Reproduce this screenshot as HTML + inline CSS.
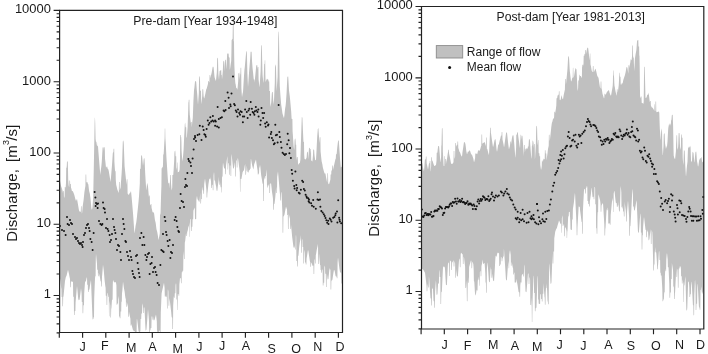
<!DOCTYPE html>
<html><head><meta charset="utf-8"><title>Discharge pre-dam and post-dam</title>
<style>html,body{margin:0;padding:0;background:#fff}body{width:708px;height:354px;overflow:hidden}</style></head>
<body>
<svg width="708" height="354" viewBox="0 0 708 354" style="display:block">
<rect width="708" height="354" fill="#fff"/>
<polygon fill="#c0c0c0" points="59.6,175.7 59.8,175.7 60.0,180.5 60.2,181.9 61.0,185.8 61.2,186.6 62.0,188.7 62.6,190.9 63.0,193.0 63.2,191.0 63.8,191.0 64.0,198.2 64.6,196.3 64.8,187.0 65.4,187.0 65.6,188.5 65.8,185.4 66.0,182.9 66.2,167.7 66.6,167.7 66.8,165.3 67.0,160.9 67.4,161.7 67.8,161.6 68.0,169.2 68.2,179.4 68.6,184.7 68.8,186.3 69.2,186.9 69.4,180.4 70.0,180.4 70.2,184.0 70.8,184.0 71.0,187.9 71.2,188.1 72.0,191.2 72.8,191.0 74.2,194.5 75.2,198.6 76.0,201.0 77.0,198.7 79.0,210.5 79.8,211.7 80.6,211.7 80.8,211.5 81.0,206.2 81.6,206.2 81.8,212.9 82.0,213.7 82.2,212.0 82.8,205.6 83.6,200.0 84.4,192.2 85.2,186.9 85.4,186.0 85.6,174.5 86.2,174.5 86.4,182.7 86.8,182.0 87.4,182.1 87.6,183.2 88.2,184.1 88.4,185.0 89.0,190.1 89.2,191.3 89.8,193.5 90.4,197.8 90.6,199.6 91.4,208.5 91.6,210.3 91.8,208.8 92.2,208.8 92.4,208.3 93.2,197.1 93.8,166.9 94.2,146.4 94.4,134.5 94.6,123.0 94.8,117.6 95.0,117.9 95.2,122.5 95.6,138.9 96.0,141.9 96.2,144.2 96.4,145.8 96.6,141.8 97.0,141.8 97.2,146.4 97.6,145.6 98.0,146.3 98.4,151.8 99.8,168.9 100.0,171.1 100.4,174.9 100.6,172.5 100.8,170.6 101.4,165.7 101.8,161.3 102.2,154.0 102.6,147.8 102.8,147.3 103.0,147.6 103.4,147.3 103.6,147.6 104.0,151.0 104.2,147.3 104.8,147.3 105.0,158.8 105.4,161.8 106.0,167.8 106.8,166.6 107.2,166.5 107.6,168.4 108.4,169.6 108.8,171.3 109.0,172.5 110.6,182.0 112.0,165.1 112.8,153.3 113.0,152.4 113.4,152.2 113.6,148.7 114.2,148.7 114.4,161.7 114.8,167.7 115.0,170.2 115.2,171.3 115.6,171.3 115.8,179.9 116.2,184.7 117.4,189.8 118.8,193.1 119.0,182.0 119.6,182.0 119.8,190.2 120.6,187.4 121.6,173.5 122.0,166.5 122.4,153.9 122.8,142.1 123.0,140.5 123.2,140.6 123.6,141.8 123.8,143.9 124.0,150.0 124.6,166.3 124.8,168.0 125.6,175.8 126.2,181.5 126.6,184.8 126.8,179.3 127.4,179.3 127.6,192.9 127.8,194.1 128.6,194.8 129.0,194.7 129.4,193.5 130.2,192.7 131.0,190.9 131.6,196.8 133.0,213.1 134.0,227.2 134.4,232.4 134.6,233.0 135.6,225.7 136.2,222.7 136.4,221.6 137.0,216.5 137.2,214.3 137.8,209.1 138.6,201.1 139.0,196.3 139.8,183.6 140.0,168.8 140.4,168.8 140.6,169.3 141.0,158.8 141.2,155.0 141.8,155.7 142.0,155.8 142.2,157.3 143.0,165.8 143.2,164.3 143.4,162.3 143.6,159.9 143.8,158.8 144.0,158.2 144.2,158.1 144.4,158.4 144.6,159.7 145.2,173.2 145.6,180.0 146.2,189.3 146.4,190.0 147.0,183.8 147.2,183.0 147.8,185.2 148.0,186.4 148.6,193.7 148.8,195.8 149.0,197.3 149.2,195.6 149.8,195.6 150.0,204.7 150.2,204.7 150.6,205.5 150.8,204.1 151.4,204.1 151.6,208.1 151.8,208.7 152.6,212.3 153.4,212.2 154.0,213.1 154.2,214.3 154.8,218.9 155.0,220.2 155.6,222.6 155.8,223.8 156.4,228.8 156.6,229.8 157.2,231.7 158.0,236.5 158.4,239.4 158.6,239.7 159.6,234.6 159.8,233.2 160.0,214.4 160.4,214.4 160.6,211.4 161.2,191.0 161.4,186.5 161.6,168.3 162.2,168.3 162.4,166.9 162.8,166.9 163.0,164.8 163.2,154.5 163.6,154.5 163.8,151.7 164.2,144.4 164.4,141.0 164.6,138.5 164.8,128.6 165.2,128.6 165.4,138.6 165.6,141.1 165.8,144.6 166.4,156.4 166.6,159.8 167.8,178.3 168.0,180.7 168.4,184.1 168.6,183.1 169.2,183.1 169.4,188.5 169.8,183.4 170.0,181.5 170.2,175.0 170.8,175.0 171.0,182.8 171.2,185.2 171.6,190.6 172.0,188.7 172.2,187.4 172.4,175.0 173.0,175.0 173.2,175.2 173.6,170.3 174.2,160.2 174.4,153.5 174.6,151.5 175.2,150.5 175.4,152.1 175.6,156.2 176.2,156.2 176.4,167.5 176.6,168.1 177.0,170.3 177.2,162.6 177.6,162.6 177.8,172.5 178.2,171.8 178.8,172.0 179.0,171.9 179.6,169.4 180.0,158.5 180.2,135.0 180.8,135.0 181.0,137.3 181.2,136.9 181.4,141.2 181.6,151.0 182.0,156.4 182.2,158.3 182.6,161.4 183.6,149.5 184.2,135.7 184.4,132.4 184.8,124.2 185.0,123.3 185.2,122.6 185.6,127.2 186.2,127.2 186.4,136.8 186.8,137.9 187.6,127.3 188.2,110.8 188.4,102.4 188.6,102.0 188.8,99.7 189.4,99.7 189.6,109.9 189.8,114.8 190.6,121.5 190.8,123.0 191.0,122.0 191.6,122.0 191.8,127.5 192.0,125.0 192.2,122.8 192.8,117.9 193.4,101.3 193.8,94.1 194.0,90.2 194.4,87.5 195.0,81.6 195.2,81.1 196.0,81.4 196.2,82.0 196.8,89.7 197.2,93.7 197.6,99.6 198.0,104.7 198.4,98.7 198.8,93.5 199.0,81.7 199.2,76.5 199.8,76.5 200.0,79.2 200.2,90.1 200.4,90.8 201.0,90.8 201.2,101.8 201.4,104.3 202.2,96.0 202.4,89.4 203.0,89.0 203.2,89.4 203.4,93.0 203.6,96.0 203.8,97.3 204.2,98.5 204.4,98.1 204.6,97.0 205.4,93.5 206.0,90.4 206.2,89.5 206.8,88.3 208.0,83.8 208.2,80.9 208.8,80.9 209.0,82.4 209.2,82.3 209.4,81.9 209.6,75.1 210.2,75.1 210.4,78.2 210.8,76.2 211.6,72.9 212.6,67.3 213.0,66.6 213.4,66.9 213.6,67.6 214.4,75.8 214.6,77.2 215.8,81.0 216.0,80.3 216.8,72.5 217.0,65.9 217.2,57.6 217.8,58.5 218.0,58.5 218.2,67.2 218.4,74.0 219.0,79.7 219.2,76.5 219.6,71.1 219.8,70.8 220.0,71.2 220.4,70.8 220.6,70.1 221.2,70.1 221.4,75.0 221.8,75.0 222.0,79.6 222.4,75.8 222.8,71.0 223.2,62.4 223.4,61.2 223.8,60.7 224.0,60.8 224.2,63.2 224.4,71.2 224.6,67.7 224.8,63.7 225.0,60.3 225.4,59.6 225.6,59.8 225.8,60.3 226.0,63.0 226.2,66.6 226.4,69.6 227.0,57.1 227.2,53.3 227.8,53.8 228.6,53.5 228.8,56.5 229.0,57.4 229.6,57.4 229.8,69.7 230.0,69.1 230.2,68.1 230.8,63.4 231.2,60.9 231.4,53.6 231.6,40.2 232.4,38.9 232.6,38.7 232.8,26.6 233.0,20.6 233.6,20.6 233.8,41.0 234.0,41.7 234.2,56.4 234.4,65.9 234.8,74.3 235.2,81.5 235.4,83.5 235.6,84.1 236.2,87.7 236.4,88.2 237.0,88.3 237.2,88.9 237.4,89.9 237.8,85.8 238.2,81.1 238.4,73.2 238.6,73.4 239.2,72.6 239.4,74.1 239.8,79.7 240.0,76.3 240.2,73.8 240.4,73.8 240.6,67.8 241.2,67.8 241.4,88.1 241.8,94.5 242.0,97.3 242.6,93.6 243.0,91.9 244.0,75.7 244.4,70.2 244.8,67.0 246.2,51.5 246.4,51.2 246.8,51.4 247.0,56.3 247.2,66.2 247.4,73.4 248.0,87.0 249.0,72.9 249.2,70.2 250.2,58.6 250.6,52.0 251.0,51.6 251.6,52.0 251.8,56.2 252.0,60.8 252.6,68.4 253.0,72.0 253.6,78.1 253.8,79.6 254.4,79.6 254.6,82.5 255.8,70.3 256.2,65.9 256.4,65.4 257.0,64.8 257.2,65.1 257.6,69.2 257.8,66.9 258.4,66.9 258.6,79.5 259.4,86.9 259.6,86.3 260.6,71.6 260.8,63.9 261.0,51.6 261.2,45.4 261.8,45.3 262.4,69.3 262.6,74.9 262.8,77.2 263.4,83.0 263.6,81.2 264.0,68.7 264.2,64.1 264.6,64.0 264.8,60.3 265.2,60.3 265.4,75.5 265.6,82.1 267.0,78.4 267.4,79.3 268.2,79.6 268.4,79.9 268.6,81.6 269.2,81.6 269.4,91.0 270.0,91.0 270.2,102.7 270.6,107.0 271.2,102.4 271.4,100.3 271.6,97.3 271.8,93.4 272.0,92.2 272.6,91.7 272.8,92.5 273.2,99.8 273.8,104.8 274.8,82.7 275.0,67.6 275.2,64.2 275.8,66.0 276.0,68.0 276.6,91.5 277.4,79.6 277.6,77.1 278.2,39.2 278.4,32.2 278.8,31.3 279.0,37.6 279.6,78.0 279.8,86.2 280.4,95.0 280.6,97.6 281.2,104.7 282.0,110.0 282.4,113.1 282.6,114.0 282.8,114.5 283.6,117.2 284.0,117.9 284.4,115.3 285.0,109.6 285.2,107.9 285.4,107.1 285.6,105.7 285.8,103.7 286.0,101.3 286.6,92.7 287.2,79.9 287.4,76.7 288.2,76.6 288.4,79.4 289.0,90.6 289.8,96.4 290.2,100.4 291.2,111.8 291.4,115.1 291.6,118.7 292.4,118.9 292.6,131.5 292.8,133.9 293.6,145.9 293.8,147.4 294.2,149.9 294.4,147.2 294.6,141.0 294.8,139.2 295.2,138.6 295.4,138.8 295.6,140.8 295.8,144.8 296.2,144.8 296.4,156.6 296.8,158.9 297.0,160.8 297.2,157.1 297.8,157.1 298.0,164.3 298.4,164.6 298.6,164.4 299.0,163.3 299.2,163.1 299.8,163.6 300.4,159.5 300.8,146.4 301.4,127.9 301.8,116.9 302.2,117.4 302.4,117.5 303.0,132.0 303.4,140.6 303.6,142.0 304.0,142.0 304.2,154.8 304.4,157.6 304.6,159.1 305.6,159.6 306.0,159.1 306.6,157.6 307.0,152.5 307.2,151.8 307.6,151.7 307.8,152.2 308.0,153.4 308.4,159.6 308.8,151.2 309.0,148.1 309.2,147.8 309.8,147.9 310.0,150.3 310.2,153.3 310.4,148.9 311.0,148.9 311.2,160.3 312.2,161.6 312.4,161.3 313.0,154.9 313.2,149.7 313.4,148.9 313.8,150.0 314.0,149.8 314.2,150.4 314.4,153.9 314.6,156.1 315.2,160.1 315.4,160.2 316.0,159.9 316.6,149.0 317.2,136.4 317.6,131.7 317.8,129.1 318.4,128.0 318.6,130.7 319.0,136.7 319.2,139.4 319.4,141.3 319.6,142.9 319.8,137.2 320.4,137.2 320.6,151.5 320.8,153.3 321.0,155.4 321.6,161.0 321.8,162.1 322.4,164.6 322.8,167.3 324.0,171.8 324.6,173.5 324.8,173.6 325.4,173.4 325.6,174.4 326.2,178.0 327.0,182.1 327.2,182.6 327.4,173.3 328.0,173.3 328.2,183.6 328.6,183.8 329.0,184.5 330.2,180.3 330.4,179.4 330.6,174.6 331.2,174.6 331.4,170.4 332.0,170.4 332.2,165.6 332.8,165.6 333.0,170.0 333.2,168.9 335.4,159.2 335.6,158.7 335.8,158.7 336.0,154.2 336.6,154.2 336.8,152.5 337.0,150.1 337.2,148.0 338.0,141.3 338.2,140.4 338.8,140.5 339.6,152.0 340.0,158.1 340.2,160.3 340.8,167.5 341.0,167.2 341.6,167.1 341.8,166.6 342.4,161.2 342.4,279.0 342.2,279.0 342.0,283.4 341.4,283.4 341.2,273.5 340.2,272.0 340.0,272.0 339.4,268.6 338.6,261.9 338.0,257.4 337.8,259.8 337.6,262.5 337.4,278.2 336.8,278.2 336.6,275.2 336.4,277.0 336.2,276.8 335.6,275.9 335.4,274.9 334.8,271.4 334.6,270.8 334.0,269.8 333.2,274.3 332.6,278.6 332.4,279.7 331.6,281.1 331.4,279.3 331.2,289.5 330.6,289.5 330.4,269.4 329.8,269.4 329.6,267.6 329.4,269.3 328.6,277.3 328.4,278.9 327.8,279.5 327.6,279.0 327.4,277.7 327.0,274.6 326.8,273.9 326.6,286.9 326.0,286.9 325.8,273.8 325.2,273.8 325.0,265.5 324.6,266.5 324.4,267.4 324.2,282.8 323.6,282.8 323.4,285.6 322.8,285.6 322.6,270.6 322.0,268.9 321.8,272.8 321.2,272.8 321.0,270.1 320.6,270.1 320.4,265.2 320.0,264.8 319.2,255.3 319.0,253.5 318.8,264.0 318.2,264.0 318.0,243.7 317.6,245.9 317.0,248.4 316.8,249.5 316.0,254.4 315.8,255.3 315.6,263.4 315.0,263.4 314.8,258.9 314.4,260.1 314.2,274.0 313.6,274.0 313.4,265.1 313.2,265.8 313.0,266.3 312.6,265.7 311.6,262.9 311.2,262.4 311.0,266.8 310.4,266.8 310.2,261.9 310.0,261.8 309.8,260.7 308.4,251.3 308.0,249.8 306.6,258.6 306.4,264.4 305.8,264.4 305.6,262.4 305.0,262.4 304.8,253.1 304.6,251.6 304.4,250.5 304.2,249.7 304.0,263.6 303.4,263.6 303.2,247.0 302.6,247.0 302.4,240.0 302.2,239.5 302.0,238.6 301.8,252.7 301.2,252.7 301.0,234.9 300.6,238.5 299.8,242.5 299.2,247.1 299.0,249.0 298.6,253.9 298.4,255.9 298.2,255.9 298.0,255.2 297.8,266.5 297.2,266.5 297.0,260.9 296.4,260.9 296.2,237.1 296.0,234.4 295.8,236.3 295.6,249.6 295.0,249.6 294.8,245.2 294.6,246.7 294.4,247.8 293.6,247.6 293.4,246.6 292.2,237.3 292.0,235.3 291.0,224.7 290.8,228.9 290.2,228.9 290.0,219.0 289.8,217.9 288.8,214.1 288.6,229.0 288.0,229.0 287.8,215.0 287.2,215.0 287.0,209.2 286.6,208.5 286.0,206.5 285.8,207.4 284.4,214.9 283.4,216.7 283.2,232.8 282.6,232.8 282.4,212.8 282.2,208.4 281.6,194.5 281.4,192.2 281.0,192.5 280.8,200.5 280.2,200.5 280.0,194.5 279.8,192.5 279.0,183.0 278.2,174.0 278.0,171.3 277.4,175.4 277.2,177.0 277.0,193.0 276.4,193.0 276.2,186.4 275.2,197.9 275.0,199.9 274.6,203.0 274.4,204.1 274.2,203.9 274.0,204.1 273.8,209.8 273.2,209.8 273.0,199.2 272.8,197.2 272.6,195.8 272.0,192.1 271.2,184.6 271.0,182.9 270.4,183.8 270.2,183.8 270.0,192.9 269.4,192.9 269.2,183.9 268.8,184.4 268.0,186.6 267.8,184.6 267.6,187.5 267.0,187.5 266.8,174.9 266.2,169.3 266.0,175.9 265.4,175.9 265.2,178.8 264.8,178.8 264.6,176.8 264.0,180.6 263.8,201.0 263.2,201.0 263.0,183.7 262.6,183.8 262.4,182.8 262.0,180.1 261.2,175.5 261.0,173.8 260.4,167.3 260.2,165.9 260.0,164.8 259.6,167.1 259.2,167.9 259.0,173.5 258.6,173.5 258.4,174.6 257.8,174.6 257.6,170.5 257.4,169.4 257.2,168.0 256.4,163.1 256.0,159.6 255.8,159.9 254.2,164.3 254.0,165.5 253.4,169.5 253.2,169.0 252.4,166.2 251.8,163.4 251.0,158.7 250.8,159.6 250.6,168.7 250.0,168.7 249.8,170.3 249.2,170.3 249.0,169.7 248.8,171.1 248.6,172.2 248.4,172.8 248.0,172.0 247.6,172.2 247.4,171.1 247.2,169.5 246.8,165.5 246.6,170.8 246.2,170.8 246.0,174.8 245.4,174.8 245.2,164.0 244.8,165.4 244.0,170.3 243.4,170.8 242.6,172.3 241.6,178.0 241.4,178.9 241.0,179.1 240.6,178.7 240.4,191.7 240.0,191.7 239.8,172.5 238.6,162.7 238.0,158.3 237.6,158.7 237.4,167.6 236.8,167.6 236.6,160.1 236.0,161.1 235.8,176.4 235.2,176.4 235.0,162.2 234.8,163.0 234.2,166.7 234.0,167.6 233.2,169.1 233.0,167.7 231.6,154.1 231.4,156.0 231.2,175.9 230.6,175.9 230.4,165.4 230.2,165.6 229.8,165.2 229.6,174.7 229.0,174.7 228.8,163.3 228.2,163.3 228.0,169.6 227.6,169.6 227.4,156.1 226.2,164.3 226.0,166.2 225.8,174.2 225.2,174.2 225.0,168.3 224.4,168.7 224.0,167.7 223.8,166.9 223.0,162.6 222.8,165.7 222.6,176.5 222.2,176.5 222.0,177.9 221.8,192.6 221.4,192.6 221.2,186.9 220.8,187.4 220.6,187.1 220.4,185.7 219.8,180.2 219.6,184.8 219.0,184.8 218.8,176.8 218.6,179.4 218.4,181.6 217.8,186.6 217.4,190.5 217.0,191.0 216.6,190.4 216.4,188.9 216.2,187.0 216.0,186.0 215.4,183.3 215.2,181.7 215.0,180.5 214.4,180.5 214.2,173.5 214.0,171.9 213.8,173.4 213.6,175.4 213.4,190.2 212.8,190.2 212.6,184.2 212.4,185.3 212.2,185.0 212.0,184.4 211.8,188.0 211.2,188.0 211.0,180.9 210.8,180.2 210.6,178.8 210.4,177.1 210.2,178.9 209.6,178.9 209.4,178.1 209.2,179.5 208.4,184.4 207.6,192.1 207.4,192.9 207.2,197.4 206.6,197.4 206.4,190.2 206.2,188.1 206.0,186.3 205.0,178.6 204.2,184.2 204.0,193.7 203.4,193.7 203.2,190.2 203.0,190.7 202.6,189.8 202.2,187.4 202.0,186.8 201.8,198.9 201.2,198.9 201.0,203.4 200.4,203.4 200.2,192.2 200.0,195.4 199.8,198.2 199.6,200.4 199.4,202.1 199.2,201.7 198.6,201.3 198.4,200.6 198.2,200.1 197.6,199.5 197.4,198.4 197.0,196.0 196.8,196.8 196.4,199.8 196.2,218.9 195.8,218.9 195.6,219.3 195.0,219.3 194.8,207.5 193.6,209.9 193.4,211.0 193.2,219.2 192.6,219.2 192.4,226.7 191.8,226.7 191.6,230.9 191.0,230.9 190.8,219.5 190.2,218.7 190.0,236.8 189.6,236.8 189.4,222.3 189.0,225.6 188.4,227.0 188.2,227.7 188.0,229.1 187.6,231.0 187.4,231.6 187.2,231.9 187.0,235.9 186.4,235.9 186.2,233.3 186.0,233.6 185.2,240.9 184.8,242.8 184.6,259.0 184.0,259.0 183.8,251.0 183.4,256.1 183.2,270.7 182.6,270.7 182.4,272.3 181.8,272.3 181.6,283.2 181.0,283.2 180.8,278.3 180.2,278.3 180.0,278.0 179.6,282.5 179.4,284.3 179.2,295.7 178.6,295.7 178.4,294.0 177.8,294.1 177.6,309.9 177.2,309.9 177.0,299.5 176.4,299.5 176.2,284.5 176.0,283.1 175.6,285.1 175.4,293.2 174.8,293.2 174.6,297.8 174.0,297.8 173.8,296.1 173.6,299.5 173.2,305.6 173.0,329.0 172.4,329.0 172.2,317.5 172.0,317.7 171.6,316.7 171.4,314.7 171.2,312.2 170.0,302.0 169.6,299.6 169.4,298.0 169.2,305.7 168.6,305.7 168.4,291.4 168.2,290.5 168.0,289.2 167.8,290.0 167.6,308.4 167.0,308.4 166.8,295.1 166.6,296.3 166.4,297.0 165.6,296.7 165.4,295.2 165.2,296.6 164.8,296.6 164.6,288.0 164.0,282.8 162.0,291.4 161.6,293.6 160.8,312.7 160.6,332.5 160.0,332.5 159.8,330.6 159.6,330.3 158.8,332.1 158.0,331.8 157.8,330.0 157.6,332.5 157.0,332.5 156.8,321.2 156.0,314.5 154.4,320.2 153.6,320.2 153.4,319.3 153.0,316.2 152.8,319.8 152.4,319.8 152.2,316.6 151.6,316.6 151.4,327.9 150.8,327.9 150.6,328.9 150.4,330.6 150.0,330.0 149.8,332.5 149.2,332.5 149.0,321.3 148.8,318.5 148.6,316.1 148.0,309.1 147.2,320.5 146.6,327.9 146.4,329.7 145.6,330.8 145.4,327.5 145.0,318.7 144.6,310.4 144.4,307.6 143.8,307.6 143.6,313.0 143.0,313.0 142.8,303.3 142.2,306.1 142.0,313.4 141.4,313.4 141.2,318.9 140.6,318.9 140.4,331.5 140.0,331.5 139.8,332.5 139.2,332.5 139.0,331.5 138.6,331.6 138.4,330.1 137.8,324.5 137.0,318.5 136.8,319.7 136.6,332.5 136.0,332.5 135.8,332.5 135.2,332.5 135.0,331.3 134.8,331.1 134.0,331.5 133.2,329.9 133.0,330.2 131.8,325.8 131.4,323.8 131.2,325.4 130.6,325.4 130.4,318.8 129.4,314.1 129.0,311.6 128.8,316.7 128.2,316.7 128.0,307.0 126.8,302.0 126.6,306.8 126.0,306.8 125.8,298.9 125.6,298.5 125.4,297.7 125.0,295.0 124.8,292.9 124.6,291.4 124.0,288.5 123.8,287.2 123.2,282.7 123.0,281.7 122.4,290.1 122.0,293.6 121.8,301.8 121.4,301.8 121.2,311.6 120.6,311.6 120.4,318.2 119.8,318.2 119.6,316.6 119.0,316.6 118.8,299.4 118.2,296.0 118.0,303.5 117.4,303.5 117.2,304.7 116.6,304.7 116.4,285.3 116.0,282.7 115.4,282.1 114.6,282.5 113.8,281.7 113.2,280.3 113.0,280.1 112.8,284.3 112.6,299.7 112.0,299.7 111.8,302.6 111.6,305.8 111.4,308.5 111.2,308.6 111.0,317.6 110.4,317.6 110.2,305.6 109.6,300.8 109.4,316.3 109.0,316.3 108.8,297.1 108.4,297.1 107.8,293.6 107.6,292.8 107.4,293.1 107.2,305.1 106.6,305.1 106.4,295.7 105.8,295.7 105.6,287.8 105.4,286.8 105.2,285.3 104.6,280.2 104.4,278.0 103.8,270.7 103.0,264.8 102.2,274.7 102.0,276.7 101.8,286.5 101.2,286.5 101.0,281.6 100.6,281.2 100.4,280.2 100.0,277.7 99.8,276.7 98.8,272.8 98.6,276.3 98.0,276.3 97.8,269.7 97.2,269.7 97.0,263.9 96.8,261.7 96.0,253.8 95.8,258.9 95.6,276.2 95.2,276.2 95.0,278.7 94.6,288.1 94.4,293.1 94.2,298.6 94.0,317.3 93.6,317.3 93.4,319.0 92.6,319.4 92.4,315.8 92.2,310.9 91.4,290.7 91.0,280.1 90.6,282.0 89.8,286.9 89.6,288.4 89.4,289.6 88.8,290.0 88.6,292.1 88.0,292.1 87.8,284.7 87.2,284.7 87.0,277.2 86.8,277.4 86.6,278.1 86.0,280.7 85.2,281.9 85.0,282.5 84.4,290.4 84.2,293.5 84.0,305.2 83.4,305.2 83.2,313.2 82.6,313.2 82.4,301.9 81.8,301.9 81.6,293.6 81.4,291.6 81.0,288.2 80.6,291.8 79.8,298.1 79.6,299.4 79.4,300.2 79.0,299.4 78.6,300.4 78.4,299.6 78.2,298.4 77.4,289.7 77.0,285.9 76.6,290.3 75.6,302.3 75.4,311.0 74.8,311.0 74.6,315.1 74.0,315.1 73.8,296.7 73.2,296.7 73.0,282.2 72.8,281.8 71.2,281.5 71.0,280.9 70.8,287.2 70.2,287.2 70.0,278.9 69.6,277.3 69.0,274.1 68.0,269.7 66.6,275.5 65.8,277.3 65.0,281.0 63.6,295.6 63.4,297.1 63.2,296.6 63.0,306.2 62.4,306.2 62.2,296.9 61.6,296.9 61.4,288.9 61.2,287.9 61.0,286.2 60.4,280.8 60.0,278.4 59.6,278.8"/>
<polygon fill="#c0c0c0" points="421.5,162.9 421.7,162.6 422.3,163.3 423.1,168.1 423.9,171.2 424.1,170.2 424.7,162.3 424.9,159.8 425.1,159.3 425.7,159.4 425.9,156.5 426.5,156.5 426.7,163.3 427.9,169.0 428.1,168.9 428.5,166.6 428.9,163.7 429.1,163.2 429.3,163.1 429.5,163.4 429.7,161.1 430.3,161.1 430.5,171.3 430.7,171.2 431.1,166.4 431.3,157.2 431.9,157.2 432.1,160.8 432.5,160.7 434.1,165.7 434.7,166.1 435.9,165.1 436.1,164.2 436.5,161.0 436.7,152.7 437.3,152.7 437.5,151.6 437.7,149.6 438.1,146.4 438.3,146.1 438.9,146.0 439.1,146.5 439.3,148.5 440.1,158.5 440.5,162.1 440.7,161.7 441.1,156.8 441.3,145.4 441.5,145.4 441.7,136.2 441.9,128.6 442.5,128.0 442.7,135.2 442.9,151.8 443.5,164.0 443.7,166.1 444.3,165.9 444.5,156.1 444.9,156.1 445.1,159.1 445.7,159.1 445.9,164.4 446.1,163.2 446.3,161.7 446.9,159.3 447.1,158.3 447.7,153.7 447.9,152.4 448.1,152.2 448.3,149.8 448.9,149.8 449.1,153.7 450.1,158.3 450.9,162.8 451.1,163.4 451.7,163.9 452.9,163.6 453.5,161.9 453.7,151.1 454.3,151.1 454.5,158.9 454.9,157.6 455.1,156.4 455.3,143.1 455.9,143.1 456.1,146.7 456.9,144.8 457.1,144.5 457.3,145.2 457.5,141.4 458.1,141.4 458.3,148.0 458.7,149.1 459.3,151.3 459.5,151.8 460.1,152.4 460.9,155.1 461.7,156.4 461.9,156.6 462.1,155.7 462.5,151.9 463.3,146.9 463.9,142.6 464.1,142.3 464.9,142.3 465.5,144.6 465.7,145.9 466.3,150.9 466.9,154.0 467.1,154.2 467.9,151.6 468.7,151.7 469.1,150.7 469.5,150.3 470.1,151.0 470.3,151.4 470.9,153.4 471.7,154.8 472.1,154.9 473.3,158.4 473.9,161.8 474.1,162.3 475.1,158.2 475.3,153.5 475.9,153.5 476.1,154.3 476.3,153.5 476.5,153.2 477.1,154.2 477.3,154.0 477.9,151.3 478.7,149.9 479.3,150.8 479.5,150.9 480.3,149.1 481.1,145.9 481.3,145.8 481.5,134.5 482.1,134.5 482.3,143.9 482.7,143.2 484.1,142.5 484.3,142.1 484.5,142.1 484.9,142.7 485.7,145.5 485.9,146.6 486.1,137.6 486.7,137.6 486.9,149.0 487.1,148.8 487.3,149.0 488.1,152.3 488.7,154.4 488.9,154.9 489.1,152.7 489.5,143.4 489.9,134.7 490.1,127.8 490.7,127.8 490.9,133.0 491.1,133.8 491.9,139.8 492.9,146.6 493.1,147.0 493.5,145.6 494.3,141.6 494.5,140.4 494.9,139.5 495.3,139.1 495.5,139.4 495.7,140.7 496.5,148.9 496.9,151.4 497.1,151.5 497.3,150.6 498.1,145.3 498.9,143.9 499.7,140.6 500.3,138.6 500.9,135.8 501.1,135.4 501.5,135.8 501.7,132.0 502.3,132.0 502.5,139.4 503.5,144.3 503.9,146.8 504.1,147.0 504.3,145.9 505.9,134.2 506.1,132.9 506.3,132.5 506.5,132.3 506.9,132.8 507.1,133.4 508.1,142.9 508.9,148.9 509.1,149.1 509.7,146.6 509.9,146.5 510.1,141.6 510.7,141.6 510.9,144.8 511.1,143.8 511.9,138.4 512.5,135.6 513.3,135.3 513.5,135.8 514.3,144.6 515.3,157.4 515.5,157.1 516.1,147.6 516.3,134.8 516.7,134.8 516.9,134.2 517.1,132.8 517.3,132.2 517.5,132.1 517.7,132.4 517.9,133.0 518.3,136.4 519.7,146.6 519.9,147.8 520.1,147.4 520.3,134.7 520.7,134.7 520.9,140.6 521.3,137.9 521.5,136.1 521.7,135.6 522.3,135.7 522.5,136.5 522.9,142.3 523.5,150.2 523.9,156.2 524.1,144.9 524.7,144.9 524.9,152.4 525.1,151.0 525.5,148.8 525.7,148.7 525.9,148.8 526.3,148.2 526.5,148.1 526.7,148.7 526.9,149.7 527.1,148.6 527.7,148.6 527.9,146.5 528.5,146.5 528.9,139.8 529.1,139.0 529.7,139.4 529.9,140.1 531.3,158.5 531.5,158.3 531.7,155.0 531.9,145.7 532.1,145.7 532.3,144.8 532.5,141.3 532.7,140.4 532.9,140.4 533.3,141.7 533.5,142.9 533.7,145.6 533.9,147.9 534.1,144.1 534.7,144.1 534.9,158.9 535.1,158.1 535.9,143.4 536.1,131.7 536.3,126.5 536.7,125.8 536.9,125.9 537.1,128.2 537.3,136.7 537.5,142.1 537.9,145.4 538.1,139.9 538.5,139.9 538.7,153.0 538.9,153.3 539.3,153.3 539.5,156.3 540.1,156.3 540.3,165.0 540.7,167.7 540.9,169.3 541.1,169.7 541.3,168.9 541.5,167.7 541.7,166.2 541.9,160.5 542.5,160.5 542.7,161.9 542.9,161.5 543.1,160.5 543.7,158.4 544.5,159.6 544.7,159.0 544.9,150.3 545.5,150.3 545.7,153.4 546.3,153.4 546.5,160.4 546.7,159.1 546.9,157.4 547.5,153.2 547.9,149.8 548.1,148.4 548.7,145.7 548.9,134.8 549.5,134.8 549.7,141.0 549.9,139.9 550.1,138.5 551.3,127.1 551.5,125.4 551.9,122.8 552.1,122.2 552.3,121.9 552.9,119.3 553.1,118.9 553.7,118.3 553.9,118.0 554.1,117.2 554.3,111.8 554.9,111.8 555.1,112.9 555.3,112.2 555.9,108.7 556.3,105.4 556.5,98.3 557.1,98.3 557.3,97.3 557.5,95.7 558.3,94.5 558.5,94.7 558.7,95.7 558.9,91.2 559.5,91.2 559.7,99.5 560.1,100.3 560.7,99.5 561.5,95.2 561.7,95.5 562.3,98.4 562.9,99.2 563.1,98.7 563.7,95.0 564.9,89.4 565.1,78.9 565.7,78.9 565.9,84.7 566.1,83.3 567.3,70.9 567.5,68.2 567.7,64.8 568.1,57.5 568.3,56.2 568.5,55.9 568.9,56.9 569.1,58.4 569.3,62.3 569.7,69.3 569.9,71.8 570.9,80.5 571.1,81.4 571.5,81.0 572.3,77.7 572.7,77.8 572.9,67.7 573.3,67.7 573.5,77.6 573.9,77.2 574.1,76.1 574.7,72.2 575.3,68.8 575.5,68.0 576.1,69.0 576.3,69.0 576.5,69.7 576.9,77.1 577.5,89.6 577.7,91.0 578.1,87.9 578.3,80.6 578.7,80.6 578.9,80.3 579.3,76.0 579.5,74.8 579.7,74.6 580.1,76.1 580.7,76.0 580.9,76.2 581.5,77.9 581.7,77.5 581.9,76.1 582.1,64.8 582.7,64.8 582.9,67.2 583.1,65.5 583.5,64.0 583.7,55.7 584.3,55.7 584.5,54.0 584.9,54.0 585.1,50.1 585.7,50.1 585.9,54.6 587.1,48.4 587.3,48.0 587.9,47.4 588.1,47.7 588.5,50.7 589.3,57.8 589.7,60.4 589.9,53.4 590.3,53.4 590.5,64.2 590.9,65.9 591.5,69.5 591.7,70.5 592.3,72.0 592.5,72.0 592.7,71.8 592.9,65.9 593.5,65.9 593.7,71.7 593.9,72.0 594.1,71.8 594.7,70.2 595.1,69.1 595.5,68.7 596.3,71.4 597.1,75.2 597.7,76.8 598.1,77.1 598.5,78.0 598.7,78.9 599.5,84.5 599.9,86.9 600.1,87.7 600.5,88.4 600.7,81.4 601.3,81.4 601.5,88.7 601.7,88.6 601.9,89.7 602.5,93.8 603.9,98.3 604.1,98.3 604.3,97.5 604.5,93.7 605.1,93.7 605.3,94.9 606.3,93.4 607.1,91.5 607.9,91.2 608.7,89.9 608.9,90.0 609.1,90.6 609.5,92.5 610.3,94.8 610.9,95.7 611.1,95.2 612.5,87.2 612.7,85.7 612.9,82.0 613.1,70.6 613.5,70.6 613.7,75.3 613.9,75.7 614.1,77.5 614.3,82.8 614.5,85.8 614.9,87.4 615.3,90.2 615.5,91.3 616.3,94.7 616.5,95.3 616.7,95.7 616.9,89.2 617.5,89.2 617.7,92.6 617.9,91.9 618.7,85.4 618.9,82.3 619.3,72.7 619.7,72.7 619.9,76.2 620.1,76.8 620.5,76.8 620.7,83.7 620.9,84.8 621.1,85.1 621.7,83.6 621.9,83.3 622.5,83.6 622.7,83.1 623.3,80.1 624.3,76.9 624.9,75.3 625.7,71.8 626.3,67.9 626.5,66.9 627.3,67.4 627.5,68.4 628.3,73.7 628.5,65.3 629.1,65.3 629.3,68.1 629.5,66.5 630.1,63.4 630.3,62.5 630.7,59.3 631.1,59.4 631.5,60.4 631.7,59.6 632.1,55.2 632.3,45.6 632.9,45.6 633.1,57.3 633.5,57.9 633.7,55.8 633.9,63.2 634.3,71.3 634.9,58.7 635.5,54.7 636.3,50.6 636.5,48.6 637.1,40.6 637.5,40.8 637.7,39.9 638.3,39.9 638.5,46.5 639.1,46.5 639.3,55.2 639.5,56.3 639.7,66.7 639.9,86.4 640.1,96.6 640.7,98.6 640.9,96.5 641.5,96.5 641.7,102.5 641.9,103.1 642.7,102.9 642.9,103.7 643.1,103.9 643.5,102.9 643.7,101.7 644.1,67.3 644.7,66.4 645.1,81.8 645.5,98.1 646.5,97.6 646.7,97.0 647.3,94.4 648.1,95.0 648.5,92.6 648.9,94.6 649.7,101.5 649.9,101.9 650.1,100.9 650.7,100.9 650.9,105.5 651.3,106.5 651.9,107.5 652.7,107.8 653.5,109.5 653.9,109.8 654.1,104.3 654.5,104.3 654.7,110.5 655.1,111.0 655.3,110.8 655.5,101.4 656.1,101.4 656.3,111.4 656.7,112.2 658.9,111.6 659.3,112.7 659.7,125.6 659.9,129.8 660.5,137.0 660.7,140.0 660.9,138.4 661.1,132.2 661.3,130.8 661.9,128.3 662.1,134.0 662.3,148.0 662.7,155.1 662.9,155.3 663.5,146.0 663.7,136.3 663.9,133.7 664.5,133.2 664.7,134.6 664.9,140.3 665.1,143.7 665.9,148.7 666.1,148.6 666.7,146.2 666.9,146.5 667.1,145.6 667.3,143.6 667.5,141.4 667.7,138.0 668.1,130.5 668.3,128.0 669.1,123.5 669.3,123.5 669.7,125.1 669.9,125.4 670.1,125.5 670.3,125.0 670.5,123.9 670.9,123.6 671.1,120.2 671.3,120.2 671.5,119.3 671.7,116.5 671.9,115.1 672.7,114.8 672.9,119.9 673.1,125.5 673.3,135.0 673.5,148.3 673.7,155.4 674.3,157.9 674.5,158.4 675.1,159.0 675.9,151.5 676.1,143.9 676.3,140.7 676.5,135.3 677.1,135.3 677.3,147.7 677.5,149.9 678.1,147.3 678.3,143.9 678.5,137.7 678.7,133.1 679.1,133.2 679.5,132.9 679.7,137.4 679.9,143.5 680.1,147.1 680.7,150.0 680.9,147.2 681.1,134.4 681.7,134.4 681.9,137.8 682.5,137.8 682.7,157.5 682.9,160.4 683.3,165.1 683.5,162.6 683.7,155.3 683.9,150.3 684.7,150.7 684.9,155.3 685.1,161.3 685.3,166.0 685.9,175.7 686.1,176.0 686.7,168.4 686.9,166.4 687.5,161.8 687.9,150.8 688.1,148.1 688.3,148.1 689.1,146.2 689.9,147.8 690.5,145.5 690.7,150.7 690.9,156.7 691.1,161.3 691.7,161.5 691.9,162.4 692.1,158.5 692.3,155.0 692.5,151.9 692.7,151.7 692.9,152.3 693.1,152.5 693.3,152.4 693.5,153.0 694.3,162.2 694.5,162.3 695.3,153.5 695.5,151.9 696.1,151.6 696.3,151.9 696.5,154.2 696.9,159.9 697.1,161.5 697.5,163.5 697.7,164.7 697.9,166.2 698.1,166.6 698.3,166.0 698.5,164.9 699.1,160.6 699.3,159.9 700.1,158.3 700.7,158.6 701.3,157.0 701.5,157.2 702.1,161.8 702.3,162.5 703.7,160.5 703.7,289.3 702.3,293.7 702.1,293.8 701.9,292.7 701.5,288.7 701.1,286.4 700.9,289.9 700.5,289.9 700.3,309.7 699.7,309.7 699.5,307.7 699.1,307.2 698.9,306.2 698.5,298.6 697.7,284.2 697.5,283.9 697.3,286.9 697.1,303.7 696.5,303.7 696.3,310.0 695.7,310.0 695.5,286.0 695.3,283.2 695.1,280.1 694.9,281.1 694.5,291.1 694.3,295.1 694.1,315.3 693.5,315.3 693.3,304.8 693.1,305.4 692.9,304.8 691.7,282.3 691.5,281.4 691.1,285.4 690.9,294.2 690.3,294.2 690.1,296.9 689.5,296.9 689.3,287.4 688.9,281.4 688.7,281.7 688.3,281.7 688.1,282.9 687.7,294.5 687.5,300.6 687.3,307.6 687.1,309.7 686.7,310.6 686.5,310.7 686.3,309.0 686.1,301.7 685.5,279.1 685.3,276.3 684.5,285.0 684.3,285.6 684.1,285.5 683.9,302.0 683.5,302.0 683.3,283.6 682.7,279.2 682.5,283.6 681.9,283.6 681.7,276.2 681.1,276.2 680.9,266.5 680.3,266.5 680.1,268.5 679.5,268.5 679.3,265.8 678.7,270.3 678.5,287.8 677.9,287.8 677.7,270.1 677.5,269.3 677.3,268.8 677.1,276.9 676.5,276.9 676.3,268.3 675.9,275.6 675.3,288.3 675.1,292.2 674.9,292.9 674.7,299.1 674.1,299.1 673.9,287.7 673.7,286.6 673.3,286.6 673.1,272.0 672.9,269.5 672.1,264.2 671.9,263.1 671.7,278.9 671.1,278.9 670.9,292.4 670.3,292.4 670.1,297.7 669.5,297.7 669.3,284.0 669.1,279.8 668.7,271.0 668.5,267.3 667.9,267.3 667.7,259.2 667.5,257.8 667.1,253.7 666.9,253.3 666.7,254.6 666.3,259.4 666.1,271.1 665.7,271.1 665.5,268.5 665.1,272.6 664.9,276.0 664.7,292.2 664.3,292.2 664.1,294.1 663.9,298.5 663.7,299.5 663.5,299.5 663.3,299.8 663.1,301.3 662.5,301.3 662.3,289.0 662.1,285.3 661.7,278.4 661.5,275.5 660.9,275.5 660.7,272.7 660.3,272.7 660.1,259.9 659.5,259.9 659.3,252.3 659.1,250.8 658.9,251.8 658.1,264.8 657.9,265.7 657.7,269.2 657.1,269.2 656.9,261.9 656.7,258.9 656.3,253.3 656.1,252.3 655.5,252.3 655.3,247.1 655.1,249.4 654.7,253.3 654.5,264.4 654.1,264.4 653.9,270.5 653.3,270.5 653.1,259.4 652.7,244.5 652.5,236.7 652.3,232.3 651.7,229.7 651.5,243.9 650.9,243.9 650.7,228.9 649.7,236.5 649.5,238.5 649.3,239.4 648.7,240.5 648.5,239.7 647.9,229.2 647.7,231.6 647.1,231.6 646.9,237.3 646.3,237.3 646.1,229.7 645.7,229.9 645.5,229.6 644.1,217.5 643.9,217.6 643.5,222.1 643.1,227.0 642.9,235.3 642.5,235.3 642.3,249.6 641.7,249.6 641.5,233.6 641.3,232.6 640.9,232.6 640.7,217.8 640.5,214.0 640.3,213.4 639.7,221.2 638.9,232.6 638.7,233.1 638.1,231.9 637.9,230.6 637.3,215.7 636.7,201.8 636.5,200.2 634.9,210.1 634.7,210.4 634.3,210.4 634.1,210.1 633.9,208.8 633.7,206.5 633.1,206.5 632.9,194.1 632.5,189.1 632.3,189.9 631.9,198.4 631.1,214.5 630.5,225.5 630.3,226.2 630.1,226.0 629.9,235.7 629.3,235.7 629.1,217.5 628.7,210.7 628.1,201.6 627.9,201.3 627.3,208.8 626.9,213.4 626.7,221.4 626.1,221.4 625.9,212.5 625.7,210.2 624.9,204.3 624.7,201.7 624.5,216.4 623.9,216.4 623.7,211.6 623.1,211.6 622.9,208.1 622.7,208.7 622.5,208.3 622.3,205.6 622.1,207.3 621.5,207.3 621.3,192.3 621.1,189.7 620.7,185.9 620.5,188.7 620.3,196.1 619.9,210.0 619.7,211.7 619.5,211.6 619.1,211.2 618.9,210.0 618.5,201.3 618.3,205.6 617.7,205.6 617.5,206.9 616.9,206.9 616.7,203.2 616.5,202.8 616.3,202.9 616.1,203.2 615.9,203.1 615.7,201.8 615.5,200.2 614.5,191.2 614.3,190.7 613.7,193.5 613.5,212.0 613.1,212.0 612.9,197.7 612.5,200.0 612.1,201.2 611.9,202.5 610.7,215.0 610.5,224.8 609.9,224.8 609.7,223.2 608.9,223.5 608.3,223.5 608.1,209.6 607.9,208.0 607.7,207.4 607.5,210.2 606.9,210.2 606.7,208.6 606.3,214.1 605.7,224.9 605.5,228.2 605.3,228.8 605.1,235.6 604.5,235.6 604.3,224.3 603.1,204.6 602.9,203.0 601.7,205.0 601.5,205.9 601.3,211.7 600.7,211.7 600.5,204.0 600.3,202.0 600.1,200.4 598.5,194.3 598.3,196.7 598.1,212.1 597.7,212.2 597.5,216.9 597.3,233.7 596.7,233.7 596.5,228.3 596.1,228.3 595.9,204.6 595.7,204.3 595.3,204.3 595.1,188.6 594.9,186.9 594.5,186.9 594.3,199.3 593.7,199.3 593.5,196.1 593.3,197.0 592.7,197.2 592.5,196.7 591.7,188.0 591.5,188.0 590.9,194.3 590.1,200.0 589.9,200.7 589.7,206.6 589.1,206.6 588.9,204.0 588.3,204.0 588.1,201.0 587.5,201.0 587.3,187.6 587.1,186.2 586.9,185.8 586.3,188.1 585.9,188.2 585.7,193.5 585.1,193.5 584.9,188.7 584.1,189.6 583.9,191.8 583.1,207.4 582.9,211.8 582.7,233.7 582.1,233.7 581.9,221.9 581.7,222.0 581.5,221.6 580.9,216.4 580.1,210.4 579.7,205.7 579.5,207.0 578.9,207.0 578.7,205.3 578.5,209.6 577.5,227.0 577.3,235.2 576.7,235.2 576.5,225.3 576.3,220.3 576.1,215.6 575.5,203.2 575.1,194.4 574.9,193.0 574.7,194.7 573.9,202.5 572.9,209.0 572.7,219.6 572.1,219.6 571.9,229.9 571.3,229.9 571.1,229.4 570.5,229.4 570.3,221.1 569.7,211.5 569.5,212.1 568.9,212.1 568.7,216.3 568.3,216.3 568.1,218.1 567.7,227.3 567.5,231.1 567.3,231.6 567.1,237.9 566.7,237.9 566.5,231.1 565.9,228.2 565.7,227.5 565.1,227.5 564.9,236.3 564.3,236.3 564.1,224.5 563.5,224.5 563.3,226.1 562.7,226.1 562.5,215.2 561.9,218.1 561.7,232.7 561.3,232.7 561.1,223.2 560.9,224.0 560.7,224.2 559.1,220.6 558.9,220.8 558.5,222.5 557.7,225.0 556.9,227.9 556.1,229.3 555.3,231.6 555.1,232.6 554.9,233.9 554.5,237.0 554.3,237.9 554.1,251.5 553.5,251.5 553.3,263.6 552.7,263.6 552.5,253.6 552.1,265.2 551.5,281.7 551.3,283.2 550.7,284.1 550.5,283.0 549.9,270.5 549.5,263.3 549.3,265.6 549.1,273.8 548.9,282.4 548.7,304.3 548.1,304.3 547.9,301.7 547.7,301.5 547.5,300.1 547.1,290.1 546.9,287.9 546.5,287.9 546.3,283.2 545.7,293.1 545.5,304.8 544.9,304.8 544.7,297.5 544.5,296.9 543.5,283.2 543.3,293.7 542.7,293.7 542.5,301.5 541.9,301.5 541.7,298.9 541.1,298.9 540.9,293.8 540.3,294.8 540.1,304.1 539.5,304.1 539.3,303.7 538.7,303.7 538.5,299.4 538.1,299.4 537.9,278.4 537.7,275.6 537.5,277.1 536.5,306.8 536.3,308.1 535.9,308.0 535.7,308.3 535.5,311.2 534.9,311.2 534.7,293.1 534.1,293.1 533.9,278.9 533.7,275.6 533.5,276.3 532.9,292.0 532.5,304.4 532.3,322.0 531.9,322.0 531.7,305.9 531.5,304.7 531.3,300.9 531.1,297.6 530.9,305.0 530.3,305.0 530.1,280.0 529.9,277.9 529.5,277.1 529.3,283.9 528.7,283.9 528.5,274.2 528.3,273.4 528.1,273.2 527.9,274.5 527.5,280.0 526.5,291.8 526.3,292.2 525.9,291.8 525.7,291.9 525.5,290.9 525.1,281.8 524.5,266.6 524.3,264.6 524.1,266.1 523.9,276.6 523.3,276.6 523.1,273.0 522.9,274.1 522.7,274.5 522.1,274.3 521.9,275.1 521.7,276.3 521.5,282.5 520.9,282.5 520.7,282.1 520.3,285.5 520.1,296.8 519.5,296.8 519.3,292.5 518.7,292.0 518.5,291.4 518.3,289.9 517.5,284.8 516.3,278.7 516.1,282.4 514.7,282.4 514.5,273.3 514.1,272.2 513.9,274.5 513.3,274.5 513.1,268.4 512.7,267.3 511.7,261.7 511.5,265.7 510.9,265.7 510.7,254.9 510.1,250.5 509.9,250.4 509.7,251.5 509.3,254.7 509.1,268.3 508.7,268.3 508.5,261.0 508.1,264.0 507.9,266.2 506.9,280.0 506.7,280.6 506.1,280.0 505.9,279.0 505.1,266.1 504.3,254.1 504.1,250.4 503.9,248.7 503.7,256.6 503.1,256.6 502.9,258.3 502.5,258.3 502.3,261.2 501.7,261.2 501.5,257.6 500.9,256.4 500.7,264.5 500.1,264.5 499.9,266.0 499.3,266.0 499.1,253.4 497.9,252.5 497.3,253.3 496.5,256.9 495.9,255.7 495.7,255.7 495.5,257.0 495.3,259.6 494.9,267.3 494.1,280.8 493.9,281.3 493.5,280.7 493.3,280.7 493.1,280.5 492.7,277.4 492.3,273.4 492.1,277.7 491.5,277.7 491.3,269.2 490.9,269.2 490.7,266.5 490.3,273.6 489.9,281.2 489.7,282.2 489.5,282.2 489.1,281.9 488.9,281.1 488.1,269.7 487.9,267.1 487.5,262.4 487.3,263.0 486.9,269.4 486.7,292.7 486.1,292.7 485.9,282.6 485.5,282.6 485.3,273.3 484.9,267.3 484.7,264.5 484.5,263.1 483.9,263.1 483.7,264.1 483.1,264.1 482.9,259.6 482.7,260.4 481.5,266.1 481.3,276.3 480.7,276.3 480.5,270.4 480.3,271.2 479.9,271.8 479.7,285.8 479.3,285.8 479.1,279.8 478.5,279.8 478.3,276.6 477.7,281.9 477.5,290.4 476.9,290.4 476.7,289.6 476.5,290.5 476.3,291.8 475.9,294.8 475.7,295.6 475.5,295.3 475.1,293.7 474.9,292.0 474.7,288.5 474.3,281.9 474.1,281.2 473.9,281.2 473.7,270.5 473.5,266.4 473.3,264.0 472.5,261.7 472.3,261.9 472.1,268.3 471.5,268.3 471.3,261.0 471.1,260.4 470.9,260.5 469.1,266.9 468.9,282.7 468.3,282.7 468.1,277.4 467.7,284.2 467.5,301.3 466.9,301.3 466.7,287.9 466.5,287.0 466.3,283.5 466.1,280.3 465.9,288.1 465.3,288.1 465.1,266.7 464.1,258.1 463.9,256.9 463.7,256.4 463.5,263.9 462.9,263.9 462.7,254.5 461.7,253.5 461.5,252.9 461.3,252.7 460.9,253.3 460.7,254.6 460.5,267.3 459.9,267.3 459.7,258.4 459.5,258.7 459.3,259.1 459.1,259.9 458.9,261.7 457.9,276.0 457.7,276.6 457.1,276.3 456.9,276.0 456.3,271.1 456.1,269.1 455.9,277.8 455.3,277.8 455.1,263.4 454.5,261.1 454.3,266.6 453.7,266.6 453.5,260.2 453.3,260.4 452.5,262.2 452.1,262.6 451.9,270.1 451.3,270.1 451.1,261.5 450.9,261.4 449.9,260.2 449.7,276.0 449.1,276.0 448.9,261.9 448.5,262.9 448.1,263.2 447.9,264.8 447.7,268.5 447.1,281.1 446.9,284.7 446.7,285.3 446.3,284.9 446.1,285.0 445.9,284.4 445.5,278.2 445.1,270.4 444.9,268.1 444.7,267.3 443.9,266.2 443.1,267.3 442.9,269.2 442.5,277.7 441.9,290.9 441.7,291.9 441.3,292.2 441.1,303.9 440.5,303.9 440.3,276.9 439.7,276.9 439.5,269.5 439.1,272.1 438.9,283.5 438.1,283.5 437.7,290.0 437.5,293.6 437.3,294.6 436.7,295.0 436.5,293.7 436.1,282.2 435.9,280.4 435.5,285.7 435.1,291.5 434.9,307.7 434.3,307.7 434.1,301.2 433.7,301.3 433.5,300.3 433.1,291.7 432.9,287.2 432.7,288.8 432.1,288.8 431.9,305.4 431.3,305.4 431.1,298.5 430.7,298.6 430.5,298.0 430.1,292.7 429.9,289.8 429.1,277.5 428.9,276.7 428.7,287.4 428.1,287.4 427.9,283.7 427.7,285.2 427.5,286.4 427.3,291.3 426.7,291.3 426.5,285.5 426.1,281.7 425.1,273.4 424.9,272.4 424.7,272.3 423.1,269.6 422.1,268.8 421.5,268.9"/>
<g fill="#111"><circle cx="60.0" cy="226.0" r="1.0"/><circle cx="62.0" cy="230.0" r="1.0"/><circle cx="64.0" cy="231.0" r="1.0"/><circle cx="65.6" cy="235.0" r="1.0"/><circle cx="67.0" cy="217.0" r="1.0"/><circle cx="67.6" cy="224.0" r="1.0"/><circle cx="69.0" cy="225.0" r="1.0"/><circle cx="70.0" cy="220.0" r="1.0"/><circle cx="71.0" cy="223.0" r="1.0"/><circle cx="72.0" cy="224.0" r="1.0"/><circle cx="73.0" cy="234.0" r="1.0"/><circle cx="75.0" cy="237.0" r="1.0"/><circle cx="76.0" cy="239.0" r="1.0"/><circle cx="77.0" cy="238.0" r="1.0"/><circle cx="78.0" cy="241.0" r="1.0"/><circle cx="79.0" cy="243.0" r="1.0"/><circle cx="80.0" cy="244.0" r="1.0"/><circle cx="81.0" cy="243.0" r="1.0"/><circle cx="82.0" cy="245.0" r="1.0"/><circle cx="82.6" cy="247.0" r="1.0"/><circle cx="83.0" cy="242.0" r="1.0"/><circle cx="84.0" cy="235.0" r="1.0"/><circle cx="85.0" cy="233.0" r="1.0"/><circle cx="86.0" cy="228.0" r="1.0"/><circle cx="87.0" cy="225.0" r="1.0"/><circle cx="88.0" cy="224.0" r="1.0"/><circle cx="89.0" cy="228.0" r="1.0"/><circle cx="89.6" cy="231.0" r="1.0"/><circle cx="90.4" cy="239.0" r="1.0"/><circle cx="91.6" cy="242.0" r="1.0"/><circle cx="92.6" cy="250.0" r="1.0"/><circle cx="93.6" cy="233.0" r="1.0"/><circle cx="99.0" cy="221.0" r="1.0"/><circle cx="100.4" cy="224.0" r="1.0"/><circle cx="101.6" cy="225.0" r="1.0"/><circle cx="102.4" cy="224.0" r="1.0"/><circle cx="106.0" cy="228.0" r="1.0"/><circle cx="107.0" cy="219.0" r="1.0"/><circle cx="107.6" cy="229.0" r="1.0"/><circle cx="108.4" cy="231.0" r="1.0"/><circle cx="109.6" cy="235.0" r="1.0"/><circle cx="110.0" cy="242.0" r="1.0"/><circle cx="111.0" cy="240.0" r="1.0"/><circle cx="112.0" cy="234.0" r="1.0"/><circle cx="113.0" cy="219.0" r="1.0"/><circle cx="114.0" cy="227.0" r="1.0"/><circle cx="114.6" cy="230.0" r="1.0"/><circle cx="115.4" cy="233.0" r="1.0"/><circle cx="116.0" cy="239.0" r="1.0"/><circle cx="117.0" cy="250.0" r="1.0"/><circle cx="118.0" cy="245.0" r="1.0"/><circle cx="119.0" cy="246.0" r="1.0"/><circle cx="120.4" cy="252.0" r="1.0"/><circle cx="121.0" cy="260.0" r="1.0"/><circle cx="122.0" cy="234.0" r="1.0"/><circle cx="123.0" cy="219.0" r="1.0"/><circle cx="123.6" cy="224.0" r="1.0"/><circle cx="124.4" cy="229.0" r="1.0"/><circle cx="125.4" cy="241.0" r="1.0"/><circle cx="126.0" cy="242.0" r="1.0"/><circle cx="127.0" cy="252.0" r="1.0"/><circle cx="128.0" cy="256.0" r="1.0"/><circle cx="129.0" cy="260.0" r="1.0"/><circle cx="130.0" cy="251.0" r="1.0"/><circle cx="131.0" cy="257.0" r="1.0"/><circle cx="131.6" cy="260.0" r="1.0"/><circle cx="132.4" cy="271.0" r="1.0"/><circle cx="133.0" cy="274.0" r="1.0"/><circle cx="134.0" cy="277.0" r="1.0"/><circle cx="135.0" cy="278.0" r="1.0"/><circle cx="136.0" cy="256.0" r="1.0"/><circle cx="137.0" cy="255.0" r="1.0"/><circle cx="137.6" cy="263.0" r="1.0"/><circle cx="138.4" cy="269.0" r="1.0"/><circle cx="139.0" cy="273.0" r="1.0"/><circle cx="139.6" cy="277.0" r="1.0"/><circle cx="140.0" cy="238.0" r="1.0"/><circle cx="141.4" cy="233.0" r="1.0"/><circle cx="142.4" cy="245.0" r="1.0"/><circle cx="143.6" cy="237.0" r="1.0"/><circle cx="144.4" cy="245.0" r="1.0"/><circle cx="145.4" cy="255.0" r="1.0"/><circle cx="146.4" cy="260.0" r="1.0"/><circle cx="147.0" cy="257.0" r="1.0"/><circle cx="148.0" cy="254.0" r="1.0"/><circle cx="149.0" cy="253.0" r="1.0"/><circle cx="149.6" cy="274.0" r="1.0"/><circle cx="150.4" cy="264.0" r="1.0"/><circle cx="151.6" cy="263.0" r="1.0"/><circle cx="152.0" cy="257.0" r="1.0"/><circle cx="153.0" cy="272.0" r="1.0"/><circle cx="154.0" cy="268.0" r="1.0"/><circle cx="155.0" cy="267.0" r="1.0"/><circle cx="155.6" cy="272.0" r="1.0"/><circle cx="156.6" cy="275.0" r="1.0"/><circle cx="157.6" cy="283.0" r="1.0"/><circle cx="159.0" cy="285.0" r="1.0"/><circle cx="160.4" cy="265.0" r="1.0"/><circle cx="161.4" cy="250.0" r="1.0"/><circle cx="162.6" cy="251.0" r="1.0"/><circle cx="163.6" cy="252.0" r="1.0"/><circle cx="163.0" cy="234.0" r="1.0"/><circle cx="164.6" cy="217.0" r="1.0"/><circle cx="165.4" cy="221.0" r="1.0"/><circle cx="166.0" cy="232.0" r="1.0"/><circle cx="166.6" cy="235.0" r="1.0"/><circle cx="167.6" cy="241.0" r="1.0"/><circle cx="168.4" cy="246.0" r="1.0"/><circle cx="169.6" cy="240.0" r="1.0"/><circle cx="170.4" cy="258.0" r="1.0"/><circle cx="171.0" cy="252.0" r="1.0"/><circle cx="172.0" cy="253.0" r="1.0"/><circle cx="173.0" cy="245.0" r="1.0"/><circle cx="174.6" cy="220.0" r="1.0"/><circle cx="175.6" cy="217.0" r="1.0"/><circle cx="176.6" cy="221.0" r="1.0"/><circle cx="177.4" cy="227.0" r="1.0"/><circle cx="178.4" cy="231.0" r="1.0"/><circle cx="179.0" cy="232.0" r="1.0"/><circle cx="94.6" cy="192.0" r="1.0"/><circle cx="95.4" cy="197.6" r="1.0"/><circle cx="96.0" cy="203.0" r="1.0"/><circle cx="97.0" cy="204.0" r="1.0"/><circle cx="98.0" cy="203.6" r="1.0"/><circle cx="97.6" cy="208.0" r="1.0"/><circle cx="95.6" cy="206.0" r="1.0"/><circle cx="103.0" cy="202.6" r="1.0"/><circle cx="103.6" cy="208.0" r="1.0"/><circle cx="104.6" cy="209.0" r="1.0"/><circle cx="105.0" cy="212.4" r="1.0"/><circle cx="180.0" cy="208.0" r="1.0"/><circle cx="180.6" cy="194.0" r="1.0"/><circle cx="181.6" cy="201.0" r="1.0"/><circle cx="183.0" cy="202.0" r="1.0"/><circle cx="184.0" cy="207.0" r="1.0"/><circle cx="185.0" cy="187.0" r="1.0"/><circle cx="185.4" cy="179.0" r="1.0"/><circle cx="186.0" cy="185.0" r="1.0"/><circle cx="187.0" cy="186.0" r="1.0"/><circle cx="187.4" cy="173.0" r="1.0"/><circle cx="191.0" cy="166.0" r="1.0"/><circle cx="192.0" cy="173.0" r="1.0"/><circle cx="189.0" cy="161.0" r="1.0"/><circle cx="190.4" cy="162.4" r="1.0"/><circle cx="195.0" cy="136.0" r="1.0"/><circle cx="196.0" cy="141.0" r="1.0"/><circle cx="194.0" cy="139.0" r="1.0"/><circle cx="193.6" cy="149.6" r="1.0"/><circle cx="188.4" cy="159.0" r="1.0"/><circle cx="192.6" cy="158.6" r="1.0"/><circle cx="195.1" cy="137.5" r="1.0"/><circle cx="197.6" cy="135.0" r="1.0"/><circle cx="199.3" cy="134.2" r="1.0"/><circle cx="199.8" cy="125.7" r="1.0"/><circle cx="201.5" cy="140.1" r="1.0"/><circle cx="202.7" cy="126.5" r="1.0"/><circle cx="203.6" cy="129.9" r="1.0"/><circle cx="204.4" cy="134.2" r="1.0"/><circle cx="205.3" cy="135.0" r="1.0"/><circle cx="205.8" cy="136.7" r="1.0"/><circle cx="206.6" cy="129.1" r="1.0"/><circle cx="207.8" cy="120.6" r="1.0"/><circle cx="208.6" cy="124.8" r="1.0"/><circle cx="209.5" cy="123.1" r="1.0"/><circle cx="210.3" cy="117.2" r="1.0"/><circle cx="211.2" cy="121.4" r="1.0"/><circle cx="212.5" cy="120.6" r="1.0"/><circle cx="212.9" cy="116.0" r="1.0"/><circle cx="213.7" cy="121.4" r="1.0"/><circle cx="215.1" cy="120.6" r="1.0"/><circle cx="215.8" cy="121.4" r="1.0"/><circle cx="215.1" cy="125.7" r="1.0"/><circle cx="217.1" cy="126.5" r="1.0"/><circle cx="218.8" cy="127.4" r="1.0"/><circle cx="217.6" cy="107.0" r="1.0"/><circle cx="218.8" cy="118.9" r="1.0"/><circle cx="220.5" cy="118.1" r="1.0"/><circle cx="221.9" cy="117.2" r="1.0"/><circle cx="223.6" cy="110.4" r="1.0"/><circle cx="224.4" cy="111.3" r="1.0"/><circle cx="225.6" cy="110.1" r="1.0"/><circle cx="225.3" cy="101.1" r="1.0"/><circle cx="227.6" cy="92.6" r="1.0"/><circle cx="228.6" cy="97.7" r="1.0"/><circle cx="231.5" cy="93.5" r="1.0"/><circle cx="229.0" cy="107.9" r="1.0"/><circle cx="230.7" cy="106.2" r="1.0"/><circle cx="230.3" cy="104.5" r="1.0"/><circle cx="234.1" cy="104.0" r="1.0"/><circle cx="234.9" cy="105.3" r="1.0"/><circle cx="235.8" cy="110.4" r="1.0"/><circle cx="236.6" cy="112.1" r="1.0"/><circle cx="237.5" cy="116.4" r="1.0"/><circle cx="238.0" cy="109.6" r="1.0"/><circle cx="239.2" cy="113.0" r="1.0"/><circle cx="240.0" cy="114.7" r="1.0"/><circle cx="240.5" cy="111.3" r="1.0"/><circle cx="241.7" cy="112.1" r="1.0"/><circle cx="242.9" cy="116.4" r="1.0"/><circle cx="244.2" cy="116.4" r="1.0"/><circle cx="242.9" cy="122.3" r="1.0"/><circle cx="245.1" cy="109.6" r="1.0"/><circle cx="246.3" cy="101.1" r="1.0"/><circle cx="246.8" cy="112.1" r="1.0"/><circle cx="247.6" cy="118.1" r="1.0"/><circle cx="248.5" cy="110.4" r="1.0"/><circle cx="249.3" cy="108.7" r="1.0"/><circle cx="250.2" cy="114.7" r="1.0"/><circle cx="250.7" cy="101.9" r="1.0"/><circle cx="251.9" cy="108.7" r="1.0"/><circle cx="252.7" cy="112.1" r="1.0"/><circle cx="253.6" cy="113.0" r="1.0"/><circle cx="254.4" cy="114.7" r="1.0"/><circle cx="254.9" cy="111.3" r="1.0"/><circle cx="255.8" cy="107.0" r="1.0"/><circle cx="256.4" cy="110.4" r="1.0"/><circle cx="257.5" cy="112.1" r="1.0"/><circle cx="258.3" cy="109.6" r="1.0"/><circle cx="258.6" cy="116.4" r="1.0"/><circle cx="260.3" cy="124.8" r="1.0"/><circle cx="260.8" cy="120.6" r="1.0"/><circle cx="261.5" cy="107.9" r="1.0"/><circle cx="262.5" cy="113.0" r="1.0"/><circle cx="263.2" cy="118.1" r="1.0"/><circle cx="264.1" cy="113.0" r="1.0"/><circle cx="278.6" cy="105.0" r="1.0"/><circle cx="265.1" cy="123.4" r="1.0"/><circle cx="266.8" cy="122.3" r="1.0"/><circle cx="268.5" cy="124.5" r="1.0"/><circle cx="268.0" cy="125.6" r="1.0"/><circle cx="265.7" cy="126.8" r="1.0"/><circle cx="275.3" cy="124.7" r="1.0"/><circle cx="271.3" cy="131.9" r="1.0"/><circle cx="270.8" cy="134.1" r="1.0"/><circle cx="269.1" cy="137.5" r="1.0"/><circle cx="271.9" cy="138.1" r="1.0"/><circle cx="273.0" cy="140.3" r="1.0"/><circle cx="274.7" cy="143.2" r="1.0"/><circle cx="273.9" cy="144.3" r="1.0"/><circle cx="275.9" cy="135.3" r="1.0"/><circle cx="277.0" cy="134.7" r="1.0"/><circle cx="279.3" cy="131.9" r="1.0"/><circle cx="279.8" cy="136.9" r="1.0"/><circle cx="277.6" cy="142.6" r="1.0"/><circle cx="280.9" cy="142.0" r="1.0"/><circle cx="287.7" cy="133.8" r="1.0"/><circle cx="288.6" cy="140.3" r="1.0"/><circle cx="287.2" cy="144.3" r="1.0"/><circle cx="281.5" cy="147.7" r="1.0"/><circle cx="290.0" cy="148.0" r="1.0"/><circle cx="282.6" cy="152.8" r="1.0"/><circle cx="283.8" cy="154.0" r="1.0"/><circle cx="284.9" cy="155.1" r="1.0"/><circle cx="286.0" cy="154.0" r="1.0"/><circle cx="289.4" cy="153.2" r="1.0"/><circle cx="290.9" cy="157.9" r="1.0"/><circle cx="291.7" cy="170.1" r="1.0"/><circle cx="292.2" cy="173.7" r="1.0"/><circle cx="295.4" cy="171.5" r="1.0"/><circle cx="292.9" cy="180.8" r="1.0"/><circle cx="302.2" cy="180.8" r="1.0"/><circle cx="303.1" cy="182.1" r="1.0"/><circle cx="294.2" cy="185.9" r="1.0"/><circle cx="296.3" cy="185.1" r="1.0"/><circle cx="294.6" cy="188.5" r="1.0"/><circle cx="297.1" cy="188.1" r="1.0"/><circle cx="296.7" cy="190.2" r="1.0"/><circle cx="300.9" cy="189.7" r="1.0"/><circle cx="303.9" cy="188.9" r="1.0"/><circle cx="304.8" cy="190.6" r="1.0"/><circle cx="298.8" cy="192.7" r="1.0"/><circle cx="299.7" cy="193.6" r="1.0"/><circle cx="317.9" cy="192.3" r="1.0"/><circle cx="305.6" cy="194.8" r="1.0"/><circle cx="306.5" cy="196.5" r="1.0"/><circle cx="306.9" cy="197.8" r="1.0"/><circle cx="308.2" cy="198.2" r="1.0"/><circle cx="309.0" cy="199.5" r="1.0"/><circle cx="308.6" cy="201.2" r="1.0"/><circle cx="313.2" cy="199.9" r="1.0"/><circle cx="317.5" cy="199.5" r="1.0"/><circle cx="318.7" cy="199.9" r="1.0"/><circle cx="320.0" cy="199.5" r="1.0"/><circle cx="338.2" cy="200.2" r="1.0"/><circle cx="309.4" cy="202.5" r="1.0"/><circle cx="311.1" cy="203.3" r="1.0"/><circle cx="312.0" cy="205.8" r="1.0"/><circle cx="313.7" cy="206.7" r="1.0"/><circle cx="315.8" cy="208.8" r="1.0"/><circle cx="320.4" cy="206.7" r="1.0"/><circle cx="321.3" cy="210.9" r="1.0"/><circle cx="322.6" cy="212.6" r="1.0"/><circle cx="323.8" cy="214.3" r="1.0"/><circle cx="324.7" cy="216.0" r="1.0"/><circle cx="325.5" cy="218.1" r="1.0"/><circle cx="326.4" cy="220.3" r="1.0"/><circle cx="328.1" cy="220.7" r="1.0"/><circle cx="327.2" cy="222.8" r="1.0"/><circle cx="328.5" cy="224.1" r="1.0"/><circle cx="329.8" cy="218.6" r="1.0"/><circle cx="330.6" cy="219.8" r="1.0"/><circle cx="331.5" cy="221.5" r="1.0"/><circle cx="333.2" cy="217.7" r="1.0"/><circle cx="334.4" cy="216.9" r="1.0"/><circle cx="335.3" cy="215.2" r="1.0"/><circle cx="335.7" cy="213.5" r="1.0"/><circle cx="337.0" cy="211.4" r="1.0"/><circle cx="339.1" cy="217.7" r="1.0"/><circle cx="339.5" cy="219.8" r="1.0"/><circle cx="337.4" cy="222.4" r="1.0"/><circle cx="339.9" cy="221.5" r="1.0"/><circle cx="341.2" cy="223.2" r="1.0"/><circle cx="233.0" cy="76.4" r="1.0"/></g>
<g fill="#111"><circle cx="421.9" cy="209.6" r="1.0"/><circle cx="422.7" cy="216.4" r="1.0"/><circle cx="423.4" cy="216.9" r="1.0"/><circle cx="424.2" cy="215.5" r="1.0"/><circle cx="425.0" cy="213.2" r="1.0"/><circle cx="425.8" cy="213.1" r="1.0"/><circle cx="426.5" cy="214.9" r="1.0"/><circle cx="427.3" cy="214.0" r="1.0"/><circle cx="428.1" cy="215.2" r="1.0"/><circle cx="428.8" cy="214.1" r="1.0"/><circle cx="429.6" cy="214.5" r="1.0"/><circle cx="430.4" cy="214.6" r="1.0"/><circle cx="431.2" cy="212.1" r="1.0"/><circle cx="431.9" cy="216.7" r="1.0"/><circle cx="432.7" cy="216.6" r="1.0"/><circle cx="433.5" cy="216.1" r="1.0"/><circle cx="434.3" cy="211.6" r="1.0"/><circle cx="435.0" cy="210.5" r="1.0"/><circle cx="435.8" cy="210.8" r="1.0"/><circle cx="436.6" cy="210.5" r="1.0"/><circle cx="437.4" cy="210.7" r="1.0"/><circle cx="438.1" cy="209.1" r="1.0"/><circle cx="438.9" cy="209.0" r="1.0"/><circle cx="439.7" cy="206.3" r="1.0"/><circle cx="440.4" cy="207.0" r="1.0"/><circle cx="441.2" cy="207.4" r="1.0"/><circle cx="442.0" cy="208.4" r="1.0"/><circle cx="442.8" cy="214.9" r="1.0"/><circle cx="443.5" cy="213.0" r="1.0"/><circle cx="444.3" cy="212.7" r="1.0"/><circle cx="445.1" cy="208.5" r="1.0"/><circle cx="445.9" cy="207.0" r="1.0"/><circle cx="446.6" cy="207.0" r="1.0"/><circle cx="447.4" cy="206.9" r="1.0"/><circle cx="448.2" cy="207.6" r="1.0"/><circle cx="449.0" cy="206.4" r="1.0"/><circle cx="449.7" cy="204.8" r="1.0"/><circle cx="450.5" cy="203.5" r="1.0"/><circle cx="451.3" cy="203.6" r="1.0"/><circle cx="452.1" cy="205.9" r="1.0"/><circle cx="452.8" cy="201.9" r="1.0"/><circle cx="453.6" cy="202.8" r="1.0"/><circle cx="454.4" cy="202.3" r="1.0"/><circle cx="455.1" cy="198.7" r="1.0"/><circle cx="455.9" cy="201.4" r="1.0"/><circle cx="456.7" cy="203.7" r="1.0"/><circle cx="457.5" cy="198.6" r="1.0"/><circle cx="458.2" cy="201.4" r="1.0"/><circle cx="459.0" cy="201.5" r="1.0"/><circle cx="459.8" cy="200.1" r="1.0"/><circle cx="460.6" cy="201.9" r="1.0"/><circle cx="461.3" cy="200.9" r="1.0"/><circle cx="462.1" cy="198.7" r="1.0"/><circle cx="462.9" cy="202.3" r="1.0"/><circle cx="463.7" cy="202.1" r="1.0"/><circle cx="464.4" cy="202.8" r="1.0"/><circle cx="465.2" cy="204.1" r="1.0"/><circle cx="466.0" cy="202.9" r="1.0"/><circle cx="466.7" cy="203.0" r="1.0"/><circle cx="467.5" cy="201.3" r="1.0"/><circle cx="468.3" cy="204.8" r="1.0"/><circle cx="469.1" cy="203.4" r="1.0"/><circle cx="469.8" cy="204.2" r="1.0"/><circle cx="470.6" cy="203.4" r="1.0"/><circle cx="471.4" cy="204.4" r="1.0"/><circle cx="472.2" cy="205.6" r="1.0"/><circle cx="472.9" cy="209.0" r="1.0"/><circle cx="473.7" cy="204.5" r="1.0"/><circle cx="474.5" cy="206.1" r="1.0"/><circle cx="475.3" cy="208.9" r="1.0"/><circle cx="476.0" cy="209.3" r="1.0"/><circle cx="476.8" cy="206.3" r="1.0"/><circle cx="477.6" cy="201.4" r="1.0"/><circle cx="478.3" cy="199.6" r="1.0"/><circle cx="479.1" cy="203.5" r="1.0"/><circle cx="479.9" cy="200.9" r="1.0"/><circle cx="480.7" cy="198.9" r="1.0"/><circle cx="481.4" cy="200.7" r="1.0"/><circle cx="482.2" cy="199.3" r="1.0"/><circle cx="483.0" cy="196.3" r="1.0"/><circle cx="483.8" cy="196.9" r="1.0"/><circle cx="484.5" cy="197.7" r="1.0"/><circle cx="485.3" cy="200.1" r="1.0"/><circle cx="486.1" cy="199.0" r="1.0"/><circle cx="486.9" cy="199.1" r="1.0"/><circle cx="487.6" cy="199.4" r="1.0"/><circle cx="488.4" cy="196.3" r="1.0"/><circle cx="489.2" cy="200.9" r="1.0"/><circle cx="489.9" cy="199.9" r="1.0"/><circle cx="490.7" cy="198.7" r="1.0"/><circle cx="491.5" cy="194.2" r="1.0"/><circle cx="558.6" cy="160.1" r="1.0"/><circle cx="559.4" cy="163.5" r="1.0"/><circle cx="561.1" cy="159.2" r="1.0"/><circle cx="560.3" cy="155.0" r="1.0"/><circle cx="561.1" cy="151.6" r="1.0"/><circle cx="561.9" cy="155.8" r="1.0"/><circle cx="562.8" cy="149.9" r="1.0"/><circle cx="563.6" cy="158.4" r="1.0"/><circle cx="564.5" cy="154.2" r="1.0"/><circle cx="565.3" cy="148.2" r="1.0"/><circle cx="566.2" cy="146.5" r="1.0"/><circle cx="567.0" cy="145.7" r="1.0"/><circle cx="567.9" cy="136.4" r="1.0"/><circle cx="568.7" cy="132.1" r="1.0"/><circle cx="569.6" cy="138.1" r="1.0"/><circle cx="570.4" cy="146.5" r="1.0"/><circle cx="571.3" cy="145.7" r="1.0"/><circle cx="572.1" cy="140.6" r="1.0"/><circle cx="573.0" cy="139.7" r="1.0"/><circle cx="573.8" cy="135.5" r="1.0"/><circle cx="574.7" cy="141.4" r="1.0"/><circle cx="575.5" cy="134.7" r="1.0"/><circle cx="576.4" cy="145.7" r="1.0"/><circle cx="577.2" cy="147.4" r="1.0"/><circle cx="578.1" cy="144.0" r="1.0"/><circle cx="578.9" cy="134.7" r="1.0"/><circle cx="579.7" cy="136.4" r="1.0"/><circle cx="580.6" cy="135.5" r="1.0"/><circle cx="581.4" cy="143.1" r="1.0"/><circle cx="582.3" cy="133.8" r="1.0"/><circle cx="583.6" cy="132.1" r="1.0"/><circle cx="584.8" cy="130.4" r="1.0"/><circle cx="586.0" cy="126.2" r="1.0"/><circle cx="587.0" cy="121.9" r="1.0"/><circle cx="587.9" cy="118.9" r="1.0"/><circle cx="588.7" cy="121.1" r="1.0"/><circle cx="589.6" cy="121.9" r="1.0"/><circle cx="590.4" cy="124.5" r="1.0"/><circle cx="591.1" cy="126.2" r="1.0"/><circle cx="593.3" cy="125.0" r="1.0"/><circle cx="594.5" cy="125.3" r="1.0"/><circle cx="595.5" cy="126.2" r="1.0"/><circle cx="596.4" cy="127.9" r="1.0"/><circle cx="597.2" cy="130.4" r="1.0"/><circle cx="598.1" cy="132.1" r="1.0"/><circle cx="598.9" cy="136.4" r="1.0"/><circle cx="600.1" cy="137.2" r="1.0"/><circle cx="600.9" cy="140.6" r="1.0"/><circle cx="601.8" cy="144.8" r="1.0"/><circle cx="602.6" cy="141.4" r="1.0"/><circle cx="603.5" cy="144.0" r="1.0"/><circle cx="604.3" cy="139.7" r="1.0"/><circle cx="605.2" cy="141.4" r="1.0"/><circle cx="606.0" cy="138.9" r="1.0"/><circle cx="606.9" cy="139.7" r="1.0"/><circle cx="607.7" cy="138.1" r="1.0"/><circle cx="608.6" cy="139.7" r="1.0"/><circle cx="609.4" cy="143.1" r="1.0"/><circle cx="610.3" cy="141.4" r="1.0"/><circle cx="611.1" cy="140.6" r="1.0"/><circle cx="611.9" cy="138.9" r="1.0"/><circle cx="612.8" cy="139.7" r="1.0"/><circle cx="613.6" cy="133.8" r="1.0"/><circle cx="614.5" cy="134.7" r="1.0"/><circle cx="615.3" cy="133.0" r="1.0"/><circle cx="616.2" cy="136.4" r="1.0"/><circle cx="617.0" cy="137.2" r="1.0"/><circle cx="617.9" cy="136.4" r="1.0"/><circle cx="618.7" cy="137.2" r="1.0"/><circle cx="619.6" cy="129.6" r="1.0"/><circle cx="620.4" cy="131.3" r="1.0"/><circle cx="621.3" cy="135.5" r="1.0"/><circle cx="622.1" cy="138.9" r="1.0"/><circle cx="623.0" cy="136.4" r="1.0"/><circle cx="623.8" cy="134.7" r="1.0"/><circle cx="624.7" cy="135.5" r="1.0"/><circle cx="625.5" cy="133.8" r="1.0"/><circle cx="626.4" cy="133.0" r="1.0"/><circle cx="626.9" cy="129.6" r="1.0"/><circle cx="627.7" cy="134.7" r="1.0"/><circle cx="628.6" cy="133.0" r="1.0"/><circle cx="629.4" cy="136.4" r="1.0"/><circle cx="630.3" cy="137.2" r="1.0"/><circle cx="631.1" cy="132.1" r="1.0"/><circle cx="631.9" cy="127.0" r="1.0"/><circle cx="632.8" cy="121.6" r="1.0"/><circle cx="632.3" cy="131.3" r="1.0"/><circle cx="633.5" cy="135.5" r="1.0"/><circle cx="634.5" cy="136.4" r="1.0"/><circle cx="635.3" cy="137.2" r="1.0"/><circle cx="636.2" cy="140.6" r="1.0"/><circle cx="637.0" cy="128.7" r="1.0"/><circle cx="637.9" cy="130.4" r="1.0"/><circle cx="638.2" cy="141.4" r="1.0"/><circle cx="639.1" cy="139.7" r="1.0"/><circle cx="639.9" cy="150.8" r="1.0"/><circle cx="640.8" cy="152.5" r="1.0"/><circle cx="641.6" cy="151.6" r="1.0"/><circle cx="642.5" cy="157.5" r="1.0"/><circle cx="643.3" cy="159.2" r="1.0"/><circle cx="644.2" cy="147.4" r="1.0"/><circle cx="645.0" cy="150.8" r="1.0"/><circle cx="645.8" cy="160.9" r="1.0"/><circle cx="646.7" cy="162.6" r="1.0"/><circle cx="647.5" cy="155.8" r="1.0"/><circle cx="648.4" cy="156.7" r="1.0"/><circle cx="649.2" cy="154.2" r="1.0"/><circle cx="650.1" cy="158.4" r="1.0"/><circle cx="650.9" cy="160.9" r="1.0"/><circle cx="651.8" cy="163.5" r="1.0"/><circle cx="653.0" cy="164.5" r="1.0"/><circle cx="652.1" cy="166.8" r="1.0"/><circle cx="654.4" cy="169.0" r="1.0"/><circle cx="653.9" cy="174.0" r="1.0"/><circle cx="655.8" cy="174.0" r="1.0"/><circle cx="657.1" cy="181.2" r="1.0"/><circle cx="658.0" cy="182.6" r="1.0"/><circle cx="658.9" cy="184.0" r="1.0"/><circle cx="659.8" cy="191.6" r="1.0"/><circle cx="661.2" cy="198.1" r="1.0"/><circle cx="662.1" cy="203.8" r="1.0"/><circle cx="660.7" cy="206.5" r="1.0"/><circle cx="663.0" cy="210.1" r="1.0"/><circle cx="664.8" cy="201.5" r="1.0"/><circle cx="665.7" cy="200.1" r="1.0"/><circle cx="667.1" cy="203.3" r="1.0"/><circle cx="668.0" cy="201.0" r="1.0"/><circle cx="668.9" cy="198.8" r="1.0"/><circle cx="670.2" cy="206.9" r="1.0"/><circle cx="669.8" cy="211.9" r="1.0"/><circle cx="671.1" cy="194.3" r="1.0"/><circle cx="672.5" cy="195.6" r="1.0"/><circle cx="672.0" cy="200.6" r="1.0"/><circle cx="673.8" cy="211.4" r="1.0"/><circle cx="674.7" cy="214.6" r="1.0"/><circle cx="675.2" cy="217.8" r="1.0"/><circle cx="675.6" cy="221.4" r="1.0"/><circle cx="677.0" cy="205.1" r="1.0"/><circle cx="677.5" cy="208.3" r="1.0"/><circle cx="677.9" cy="214.6" r="1.0"/><circle cx="679.3" cy="200.6" r="1.0"/><circle cx="680.6" cy="201.0" r="1.0"/><circle cx="681.3" cy="203.3" r="1.0"/><circle cx="679.7" cy="212.3" r="1.0"/><circle cx="682.0" cy="215.1" r="1.0"/><circle cx="683.3" cy="215.5" r="1.0"/><circle cx="684.7" cy="216.0" r="1.0"/><circle cx="686.0" cy="219.1" r="1.0"/><circle cx="686.5" cy="221.8" r="1.0"/><circle cx="687.4" cy="216.9" r="1.0"/><circle cx="688.3" cy="211.4" r="1.0"/><circle cx="689.2" cy="206.9" r="1.0"/><circle cx="689.7" cy="208.7" r="1.0"/><circle cx="690.6" cy="211.4" r="1.0"/><circle cx="691.0" cy="216.0" r="1.0"/><circle cx="692.4" cy="216.2" r="1.0"/><circle cx="693.7" cy="216.2" r="1.0"/><circle cx="695.1" cy="216.4" r="1.0"/><circle cx="696.4" cy="216.4" r="1.0"/><circle cx="698.2" cy="216.2" r="1.0"/><circle cx="700.5" cy="216.2" r="1.0"/><circle cx="691.9" cy="220.8" r="1.0"/><circle cx="693.3" cy="220.8" r="1.0"/><circle cx="696.9" cy="220.8" r="1.0"/><circle cx="698.2" cy="220.5" r="1.0"/><circle cx="699.6" cy="220.2" r="1.0"/><circle cx="701.0" cy="218.7" r="1.0"/><circle cx="702.3" cy="210.1" r="1.0"/><circle cx="702.8" cy="213.7" r="1.0"/><circle cx="703.2" cy="197.0" r="1.0"/><circle cx="492.0" cy="192.6" r="1.0"/><circle cx="493.0" cy="196.6" r="1.0"/><circle cx="494.0" cy="200.5" r="1.0"/><circle cx="494.9" cy="197.5" r="1.0"/><circle cx="495.9" cy="195.6" r="1.0"/><circle cx="497.5" cy="196.6" r="1.0"/><circle cx="498.9" cy="195.6" r="1.0"/><circle cx="500.9" cy="191.6" r="1.0"/><circle cx="501.9" cy="192.6" r="1.0"/><circle cx="503.4" cy="195.6" r="1.0"/><circle cx="504.2" cy="193.6" r="1.0"/><circle cx="505.4" cy="191.6" r="1.0"/><circle cx="506.8" cy="189.1" r="1.0"/><circle cx="507.4" cy="193.6" r="1.0"/><circle cx="508.8" cy="194.6" r="1.0"/><circle cx="509.8" cy="197.5" r="1.0"/><circle cx="510.8" cy="199.5" r="1.0"/><circle cx="512.1" cy="200.5" r="1.0"/><circle cx="513.3" cy="204.5" r="1.0"/><circle cx="514.7" cy="207.4" r="1.0"/><circle cx="515.7" cy="209.4" r="1.0"/><circle cx="517.7" cy="211.8" r="1.0"/><circle cx="520.6" cy="213.0" r="1.0"/><circle cx="522.6" cy="209.8" r="1.0"/><circle cx="524.6" cy="214.3" r="1.0"/><circle cx="527.5" cy="213.0" r="1.0"/><circle cx="529.5" cy="211.8" r="1.0"/><circle cx="531.5" cy="216.3" r="1.0"/><circle cx="533.5" cy="214.9" r="1.0"/><circle cx="537.0" cy="203.9" r="1.0"/><circle cx="537.8" cy="210.4" r="1.0"/><circle cx="539.0" cy="217.3" r="1.0"/><circle cx="543.0" cy="213.4" r="1.0"/><circle cx="545.3" cy="211.8" r="1.0"/><circle cx="547.3" cy="211.0" r="1.0"/><circle cx="548.9" cy="210.4" r="1.0"/><circle cx="549.9" cy="204.5" r="1.0"/><circle cx="550.9" cy="199.5" r="1.0"/><circle cx="552.3" cy="191.6" r="1.0"/><circle cx="553.2" cy="185.7" r="1.0"/><circle cx="554.2" cy="182.7" r="1.0"/><circle cx="555.2" cy="174.8" r="1.0"/><circle cx="556.2" cy="172.8" r="1.0"/><circle cx="557.2" cy="170.9" r="1.0"/><circle cx="558.2" cy="167.9" r="1.0"/><circle cx="560.2" cy="161.0" r="1.0"/><circle cx="515.7" cy="218.3" r="1.0"/><circle cx="516.7" cy="219.3" r="1.0"/><circle cx="517.7" cy="217.7" r="1.0"/><circle cx="519.2" cy="222.3" r="1.0"/><circle cx="519.6" cy="219.3" r="1.0"/><circle cx="521.2" cy="220.3" r="1.0"/><circle cx="522.6" cy="219.3" r="1.0"/><circle cx="524.0" cy="221.3" r="1.0"/><circle cx="526.6" cy="222.8" r="1.0"/><circle cx="528.5" cy="222.3" r="1.0"/><circle cx="530.5" cy="218.3" r="1.0"/><circle cx="531.5" cy="219.3" r="1.0"/><circle cx="532.5" cy="218.3" r="1.0"/><circle cx="533.9" cy="219.3" r="1.0"/><circle cx="535.1" cy="222.3" r="1.0"/><circle cx="536.4" cy="223.6" r="1.0"/><circle cx="538.4" cy="224.2" r="1.0"/><circle cx="539.8" cy="221.3" r="1.0"/><circle cx="541.0" cy="223.2" r="1.0"/><circle cx="542.4" cy="219.3" r="1.0"/><circle cx="543.4" cy="221.3" r="1.0"/><circle cx="544.9" cy="221.7" r="1.0"/><circle cx="546.3" cy="218.9" r="1.0"/></g>
<g fill="#111"><circle cx="537" cy="204" r="1.0"/></g>
<path d="M59.6 10.4H342.5V332.5H59.6Z" fill="none" stroke="#222" stroke-width="1.2"/><path d="M59.6 332.8h-3.0M59.6 323.9h-3.0M59.6 317.0h-3.0M59.6 311.3h-3.0M59.6 306.5h-3.0M59.6 302.4h-3.0M59.6 298.8h-3.0M59.6 295.5h-6.0M59.6 274.0h-3.0M59.6 261.5h-3.0M59.6 252.6h-3.0M59.6 245.7h-3.0M59.6 240.0h-3.0M59.6 235.3h-3.0M59.6 231.1h-3.0M59.6 227.5h-3.0M59.6 224.2h-6.0M59.6 202.8h-3.0M59.6 190.2h-3.0M59.6 181.3h-3.0M59.6 174.4h-3.0M59.6 168.8h-3.0M59.6 164.0h-3.0M59.6 159.9h-3.0M59.6 156.2h-3.0M59.6 153.0h-6.0M59.6 131.5h-3.0M59.6 119.0h-3.0M59.6 110.1h-3.0M59.6 103.1h-3.0M59.6 97.5h-3.0M59.6 92.7h-3.0M59.6 88.6h-3.0M59.6 85.0h-3.0M59.6 81.7h-6.0M59.6 60.2h-3.0M59.6 47.7h-3.0M59.6 38.8h-3.0M59.6 31.9h-3.0M59.6 26.2h-3.0M59.6 21.5h-3.0M59.6 17.3h-3.0M59.6 13.7h-3.0M59.6 10.4h-6.0M59.3 332.5v5.2M82.6 332.5v5.2M105.8 332.5v5.2M129.1 332.5v5.2M152.3 332.5v5.2M175.6 332.5v5.2M198.9 332.5v5.2M222.1 332.5v5.2M245.4 332.5v5.2M268.6 332.5v5.2M291.9 332.5v5.2M315.2 332.5v5.2M338.4 332.5v5.2" fill="none" stroke="#222" stroke-width="1.15"/>
<path d="M421.5 6.5H703.8V329.0H421.5Z" fill="none" stroke="#222" stroke-width="1.2"/><path d="M421.5 328.8h-3.0M421.5 319.9h-3.0M421.5 312.9h-3.0M421.5 307.3h-3.0M421.5 302.5h-3.0M421.5 298.4h-3.0M421.5 294.8h-3.0M421.5 291.5h-6.0M421.5 270.1h-3.0M421.5 257.5h-3.0M421.5 248.6h-3.0M421.5 241.7h-3.0M421.5 236.1h-3.0M421.5 231.3h-3.0M421.5 227.2h-3.0M421.5 223.5h-3.0M421.5 220.2h-6.0M421.5 198.8h-3.0M421.5 186.3h-3.0M421.5 177.4h-3.0M421.5 170.4h-3.0M421.5 164.8h-3.0M421.5 160.0h-3.0M421.5 155.9h-3.0M421.5 152.3h-3.0M421.5 149.0h-6.0M421.5 127.6h-3.0M421.5 115.0h-3.0M421.5 106.1h-3.0M421.5 99.2h-3.0M421.5 93.6h-3.0M421.5 88.8h-3.0M421.5 84.7h-3.0M421.5 81.0h-3.0M421.5 77.8h-6.0M421.5 56.3h-3.0M421.5 43.8h-3.0M421.5 34.9h-3.0M421.5 27.9h-3.0M421.5 22.3h-3.0M421.5 17.5h-3.0M421.5 13.4h-3.0M421.5 9.8h-3.0M421.5 6.5h-6.0M421.1 329.0v5.2M444.3 329.0v5.2M467.6 329.0v5.2M490.8 329.0v5.2M514.1 329.0v5.2M537.3 329.0v5.2M560.5 329.0v5.2M583.8 329.0v5.2M607.0 329.0v5.2M630.3 329.0v5.2M653.5 329.0v5.2M676.7 329.0v5.2M700.0 329.0v5.2" fill="none" stroke="#222" stroke-width="1.15"/>
<g font-family="'Liberation Sans', Arial, sans-serif" fill="#1a1a1a" font-size="12">
<text x="50.9" y="298.4" text-anchor="end" font-size="12.6" textLength="7.2" lengthAdjust="spacingAndGlyphs">1</text>
<text x="50.9" y="227.1" text-anchor="end" font-size="12.6" textLength="14.4" lengthAdjust="spacingAndGlyphs">10</text>
<text x="50.9" y="155.9" text-anchor="end" font-size="12.6" textLength="21.6" lengthAdjust="spacingAndGlyphs">100</text>
<text x="50.9" y="84.6" text-anchor="end" font-size="12.6" textLength="28.8" lengthAdjust="spacingAndGlyphs">1000</text>
<text x="50.9" y="13.3" text-anchor="end" font-size="12.6" textLength="36.0" lengthAdjust="spacingAndGlyphs">10000</text>
<text x="412.8" y="294.4" text-anchor="end" font-size="12.6" textLength="7.2" lengthAdjust="spacingAndGlyphs">1</text>
<text x="412.8" y="223.2" text-anchor="end" font-size="12.6" textLength="14.4" lengthAdjust="spacingAndGlyphs">10</text>
<text x="412.8" y="151.9" text-anchor="end" font-size="12.6" textLength="21.6" lengthAdjust="spacingAndGlyphs">100</text>
<text x="412.8" y="80.7" text-anchor="end" font-size="12.6" textLength="28.8" lengthAdjust="spacingAndGlyphs">1000</text>
<text x="412.8" y="9.4" text-anchor="end" font-size="12.6" textLength="36.0" lengthAdjust="spacingAndGlyphs">10000</text>
<text x="82.5" y="351.4" text-anchor="middle" font-size="12.5">J</text>
<text x="104.7" y="350.2" text-anchor="middle" font-size="12.5">F</text>
<text x="131.2" y="351.6" text-anchor="middle" font-size="12.5">M</text>
<text x="152.4" y="351.4" text-anchor="middle" font-size="12.5">A</text>
<text x="177.8" y="352.6" text-anchor="middle" font-size="12.5">M</text>
<text x="199.4" y="351.4" text-anchor="middle" font-size="12.5">J</text>
<text x="222.0" y="350.4" text-anchor="middle" font-size="12.5">J</text>
<text x="245.8" y="350.2" text-anchor="middle" font-size="12.5">A</text>
<text x="271.6" y="352.5" text-anchor="middle" font-size="12.5">S</text>
<text x="296.0" y="352.5" text-anchor="middle" font-size="12.5">O</text>
<text x="317.8" y="351.4" text-anchor="middle" font-size="12.5">N</text>
<text x="340.0" y="351.4" text-anchor="middle" font-size="12.5">D</text>
<text x="444.6" y="348.6" text-anchor="middle" font-size="12.5">J</text>
<text x="467.5" y="349.8" text-anchor="middle" font-size="12.5">F</text>
<text x="493.3" y="349.0" text-anchor="middle" font-size="12.5">M</text>
<text x="515.0" y="349.8" text-anchor="middle" font-size="12.5">A</text>
<text x="537.2" y="350.5" text-anchor="middle" font-size="12.5">M</text>
<text x="559.6" y="349.4" text-anchor="middle" font-size="12.5">J</text>
<text x="583.4" y="349.8" text-anchor="middle" font-size="12.5">J</text>
<text x="608.4" y="349.4" text-anchor="middle" font-size="12.5">A</text>
<text x="631.0" y="349.8" text-anchor="middle" font-size="12.5">S</text>
<text x="655.9" y="349.8" text-anchor="middle" font-size="12.5">O</text>
<text x="679.4" y="349.4" text-anchor="middle" font-size="12.5">N</text>
<text x="700.4" y="349.4" text-anchor="middle" font-size="12.5">D</text>
<text x="133.3" y="24.5" font-size="12.3" textLength="144.2" lengthAdjust="spacingAndGlyphs">Pre-dam [Year 1934-1948]</text>
<text x="496.6" y="21.1" font-size="12.3" textLength="148.2" lengthAdjust="spacingAndGlyphs">Post-dam [Year 1981-2013]</text>
<rect x="436.3" y="45.6" width="26.4" height="12.4" fill="#c0c0c0" stroke="#8a8a8a" stroke-width="0.9"/>
<circle cx="449.6" cy="67.4" r="1.5" fill="#111"/>
<text x="466.8" y="55.6" font-size="12.3" textLength="73.6" lengthAdjust="spacingAndGlyphs">Range of flow</text>
<text x="466.8" y="71.3" font-size="12.3" textLength="54.4" lengthAdjust="spacingAndGlyphs">Mean flow</text>
<text transform="translate(16.5 241.7) rotate(-90)" font-size="15" letter-spacing="0.1">Discharge,&#160;&#160;<tspan dx="-1.5">[m</tspan><tspan font-size="9" dy="-7.8">3</tspan><tspan dy="7.8" dx="-0.7">/s]</tspan></text>
<text transform="translate(379.3 236.7) rotate(-90)" font-size="15" letter-spacing="0.1">Discharge,&#160;&#160;<tspan dx="-1.5">[m</tspan><tspan font-size="9" dy="-7.8">3</tspan><tspan dy="7.8" dx="-0.7">/s]</tspan></text>
</g>
</svg>
</body></html>
